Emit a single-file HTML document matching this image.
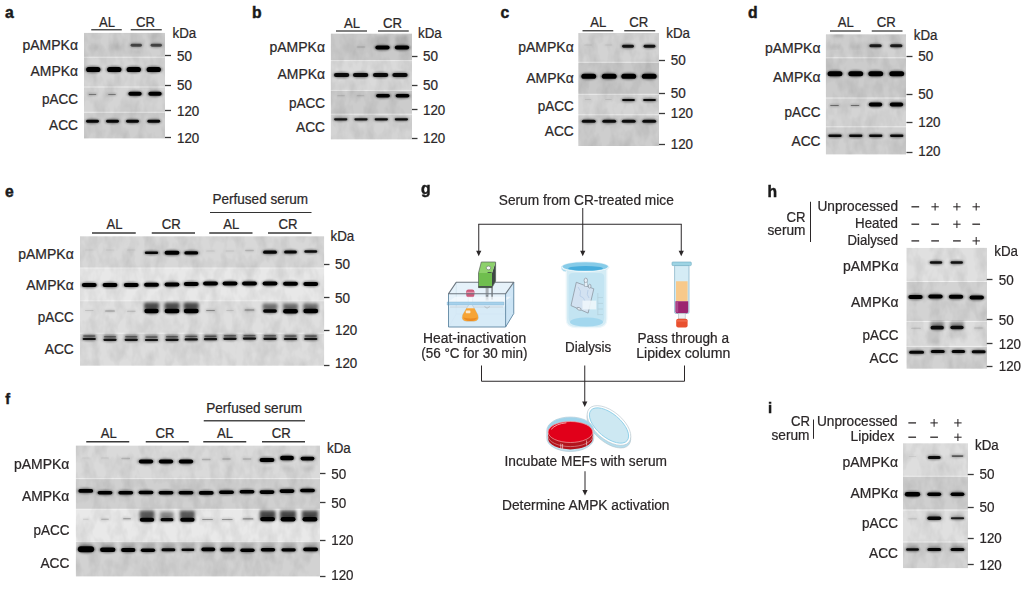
<!DOCTYPE html>
<html><head><meta charset="utf-8"><title>Figure</title>
<style>
html,body{margin:0;padding:0;background:#fff;}
body{width:1024px;height:596px;overflow:hidden;}
svg{display:block;font-family:"Liberation Sans",sans-serif;}
</style></head><body>
<svg width="1024" height="596" viewBox="0 0 1024 596">
<defs>
<filter id="b1" x="-5%" y="-5%" width="110%" height="110%"><feGaussianBlur stdDeviation="0.7"/></filter>
<filter id="b3" x="-5%" y="-5%" width="110%" height="110%"><feGaussianBlur stdDeviation="1.1"/></filter>
<filter id="nz" x="0" y="0" width="100%" height="100%"><feTurbulence type="fractalNoise" baseFrequency="0.09 0.05" numOctaves="3" seed="7" result="t"/><feColorMatrix in="t" type="matrix" values="0 0 0 0 0  0 0 0 0 0  0 0 0 0 0  0.55 0 0 0 -0.2"/></filter>
<filter id="b2" x="-5%" y="-5%" width="110%" height="110%"><feGaussianBlur stdDeviation="1.6"/></filter>
</defs>
<rect width="1024" height="596" fill="#ffffff"/>
<text x="4.90" y="18.30" font-size="15.7" fill="#1a1a1a" font-weight="bold" stroke="#1a1a1a" stroke-width="0.45">a</text>
<text x="107.00" y="26.50" font-size="13.8" fill="#2b2728" text-anchor="middle" stroke="#2b2728" stroke-width="0.22" textLength="16.00" lengthAdjust="spacingAndGlyphs">AL</text>
<line x1="91.25" y1="29.75" x2="121.75" y2="29.75" stroke="#3a3a3a" stroke-width="1.3"/>
<text x="145.50" y="26.50" font-size="13.8" fill="#2b2728" text-anchor="middle" stroke="#2b2728" stroke-width="0.22" textLength="19.00" lengthAdjust="spacingAndGlyphs">CR</text>
<line x1="130.75" y1="29.75" x2="161.75" y2="29.75" stroke="#3a3a3a" stroke-width="1.3"/>
<text x="172.50" y="37.50" font-size="13.8" fill="#2b2728" stroke="#2b2728" stroke-width="0.22" textLength="23.75" lengthAdjust="spacingAndGlyphs">kDa</text>
<clipPath id="c1"><rect x="84.00" y="32.80" width="81.00" height="105.80"/></clipPath>
<g clip-path="url(#c1)">
<rect x="84.00" y="32.80" width="81.00" height="105.80" fill="#ececec"/>
<rect x="84.00" y="32.80" width="81.00" height="23.90" fill="#d1d1d1"/>
<rect x="84.00" y="57.70" width="81.00" height="28.80" fill="#d5d5d5"/>
<rect x="84.00" y="87.50" width="81.00" height="24.30" fill="#d5d5d5"/>
<rect x="84.00" y="112.80" width="81.00" height="25.80" fill="#cfcfcf"/>
<rect x="84.00" y="32.80" width="81.00" height="105.80" filter="url(#nz)" opacity="0.32"/>
<g filter="url(#b2)">
<rect x="88.00" y="44.00" width="11.00" height="6.00" rx="1.5" fill="#000" opacity="0.07"/>
<rect x="108.50" y="44.00" width="11.00" height="6.00" rx="1.5" fill="#000" opacity="0.07"/>
<rect x="130.00" y="33.00" width="12.00" height="14.00" rx="1.5" fill="#000" opacity="0.05"/>
<rect x="150.50" y="33.00" width="12.00" height="14.00" rx="1.5" fill="#000" opacity="0.07"/>
<rect x="88.50" y="48.00" width="9.00" height="8.00" rx="1.5" fill="#000" opacity="0.04"/>
<rect x="130.50" y="48.50" width="11.00" height="5.00" rx="1.5" fill="#000" opacity="0.05"/>
</g>
<g filter="url(#b3)">
<ellipse cx="136.25" cy="45.25" rx="6.85" ry="2.40" fill="#000" opacity="0.275"/>
<ellipse cx="156.25" cy="45.25" rx="6.85" ry="2.40" fill="#000" opacity="0.275"/>
<ellipse cx="93.25" cy="69.50" rx="8.35" ry="3.60" fill="#000" opacity="0.500"/>
<ellipse cx="114.25" cy="69.50" rx="8.35" ry="3.60" fill="#000" opacity="0.500"/>
<ellipse cx="133.75" cy="69.50" rx="8.35" ry="3.60" fill="#000" opacity="0.500"/>
<ellipse cx="153.75" cy="69.50" rx="8.35" ry="3.60" fill="#000" opacity="0.500"/>
<ellipse cx="92.50" cy="94.50" rx="5.10" ry="1.40" fill="#000" opacity="0.175"/>
<ellipse cx="112.00" cy="94.50" rx="5.10" ry="1.40" fill="#000" opacity="0.175"/>
<ellipse cx="135.00" cy="93.75" rx="7.85" ry="3.00" fill="#000" opacity="0.500"/>
<ellipse cx="155.00" cy="93.75" rx="7.85" ry="3.00" fill="#000" opacity="0.500"/>
<ellipse cx="92.50" cy="121.25" rx="7.60" ry="2.40" fill="#000" opacity="0.475"/>
<ellipse cx="112.50" cy="121.25" rx="7.60" ry="2.40" fill="#000" opacity="0.475"/>
<ellipse cx="132.50" cy="121.25" rx="7.60" ry="2.40" fill="#000" opacity="0.475"/>
<ellipse cx="153.75" cy="121.25" rx="7.60" ry="2.40" fill="#000" opacity="0.475"/>
</g>
<g filter="url(#b1)">
<rect x="130.60" y="43.85" width="11.30" height="2.80" rx="1.40" fill="#000" opacity="0.550"/>
<rect x="150.60" y="43.85" width="11.30" height="2.80" rx="1.40" fill="#000" opacity="0.550"/>
<rect x="86.10" y="66.90" width="14.30" height="5.20" rx="2.60" fill="#000" opacity="1.000"/>
<rect x="107.10" y="66.90" width="14.30" height="5.20" rx="2.60" fill="#000" opacity="1.000"/>
<rect x="126.60" y="66.90" width="14.30" height="5.20" rx="2.60" fill="#000" opacity="1.000"/>
<rect x="146.60" y="66.90" width="14.30" height="5.20" rx="2.60" fill="#000" opacity="1.000"/>
<rect x="88.60" y="94.05" width="7.80" height="0.90" rx="0.45" fill="#000" opacity="0.350"/>
<rect x="108.10" y="94.05" width="7.80" height="0.90" rx="0.45" fill="#000" opacity="0.350"/>
<rect x="128.35" y="91.75" width="13.30" height="4.00" rx="2.00" fill="#000" opacity="1.000"/>
<rect x="148.35" y="91.75" width="13.30" height="4.00" rx="2.00" fill="#000" opacity="1.000"/>
<rect x="86.10" y="119.85" width="12.80" height="2.80" rx="1.40" fill="#000" opacity="0.950"/>
<rect x="106.10" y="119.85" width="12.80" height="2.80" rx="1.40" fill="#000" opacity="0.950"/>
<rect x="126.10" y="119.85" width="12.80" height="2.80" rx="1.40" fill="#000" opacity="0.950"/>
<rect x="147.35" y="119.85" width="12.80" height="2.80" rx="1.40" fill="#000" opacity="0.950"/>
</g>
</g>
<text x="78.00" y="50.10" font-size="13.8" fill="#2b2728" text-anchor="end" stroke="#2b2728" stroke-width="0.22" textLength="55.50" lengthAdjust="spacingAndGlyphs">pAMPKα</text>
<text x="78.00" y="76.35" font-size="13.8" fill="#2b2728" text-anchor="end" stroke="#2b2728" stroke-width="0.22" textLength="47.50" lengthAdjust="spacingAndGlyphs">AMPKα</text>
<text x="78.00" y="104.35" font-size="13.8" fill="#2b2728" text-anchor="end" stroke="#2b2728" stroke-width="0.22" textLength="36.00" lengthAdjust="spacingAndGlyphs">pACC</text>
<text x="78.00" y="130.10" font-size="13.8" fill="#2b2728" text-anchor="end" stroke="#2b2728" stroke-width="0.22" textLength="29.00" lengthAdjust="spacingAndGlyphs">ACC</text>
<line x1="165.00" y1="55.50" x2="171.00" y2="55.50" stroke="#3a3a3a" stroke-width="1.3"/>
<text x="177.00" y="61.35" font-size="13.8" fill="#2b2728" stroke="#2b2728" stroke-width="0.22" textLength="15.00" lengthAdjust="spacingAndGlyphs">50</text>
<line x1="165.00" y1="85.50" x2="171.00" y2="85.50" stroke="#3a3a3a" stroke-width="1.3"/>
<text x="177.00" y="89.85" font-size="13.8" fill="#2b2728" stroke="#2b2728" stroke-width="0.22" textLength="15.00" lengthAdjust="spacingAndGlyphs">50</text>
<line x1="165.00" y1="110.50" x2="171.00" y2="110.50" stroke="#3a3a3a" stroke-width="1.3"/>
<text x="177.00" y="115.60" font-size="13.8" fill="#2b2728" stroke="#2b2728" stroke-width="0.22" textLength="22.30" lengthAdjust="spacingAndGlyphs">120</text>
<line x1="165.00" y1="137.50" x2="171.00" y2="137.50" stroke="#3a3a3a" stroke-width="1.3"/>
<text x="177.00" y="142.60" font-size="13.8" fill="#2b2728" stroke="#2b2728" stroke-width="0.22" textLength="22.30" lengthAdjust="spacingAndGlyphs">120</text>
<text x="251.90" y="18.30" font-size="15.7" fill="#1a1a1a" font-weight="bold" stroke="#1a1a1a" stroke-width="0.45">b</text>
<text x="352.00" y="27.50" font-size="13.8" fill="#2b2728" text-anchor="middle" stroke="#2b2728" stroke-width="0.22" textLength="16.00" lengthAdjust="spacingAndGlyphs">AL</text>
<line x1="336.00" y1="31.00" x2="367.00" y2="31.00" stroke="#737373" stroke-width="1.8"/>
<text x="392.50" y="27.50" font-size="13.8" fill="#2b2728" text-anchor="middle" stroke="#2b2728" stroke-width="0.22" textLength="19.00" lengthAdjust="spacingAndGlyphs">CR</text>
<line x1="378.00" y1="31.00" x2="408.75" y2="31.00" stroke="#737373" stroke-width="1.8"/>
<text x="418.00" y="38.00" font-size="13.8" fill="#2b2728" stroke="#2b2728" stroke-width="0.22" textLength="23.75" lengthAdjust="spacingAndGlyphs">kDa</text>
<clipPath id="c2"><rect x="330.70" y="33.50" width="81.30" height="106.00"/></clipPath>
<g clip-path="url(#c2)">
<rect x="330.70" y="33.50" width="81.30" height="106.00" fill="#ececec"/>
<rect x="330.70" y="33.50" width="81.30" height="26.60" fill="#cacaca"/>
<rect x="330.70" y="61.10" width="81.30" height="28.80" fill="#dadada"/>
<rect x="330.70" y="90.90" width="81.30" height="22.80" fill="#cccccc"/>
<rect x="330.70" y="114.70" width="81.30" height="24.80" fill="#d4d4d4"/>
<rect x="330.70" y="33.50" width="81.30" height="106.00" filter="url(#nz)" opacity="0.32"/>
<g filter="url(#b2)">
<rect x="376.00" y="35.50" width="13.00" height="9.00" rx="1.5" fill="#000" opacity="0.1"/>
<rect x="395.50" y="35.50" width="13.00" height="9.00" rx="1.5" fill="#000" opacity="0.1"/>
</g>
<g filter="url(#b3)">
<ellipse cx="361.00" cy="47.00" rx="5.60" ry="2.00" fill="#000" opacity="0.040"/>
<ellipse cx="382.50" cy="47.50" rx="8.35" ry="3.10" fill="#000" opacity="0.500"/>
<ellipse cx="402.00" cy="47.50" rx="8.35" ry="3.10" fill="#000" opacity="0.500"/>
<ellipse cx="341.60" cy="75.10" rx="8.85" ry="3.00" fill="#000" opacity="0.460"/>
<ellipse cx="360.60" cy="75.10" rx="8.85" ry="3.00" fill="#000" opacity="0.460"/>
<ellipse cx="380.60" cy="75.10" rx="8.85" ry="3.00" fill="#000" opacity="0.460"/>
<ellipse cx="400.00" cy="75.10" rx="8.85" ry="3.00" fill="#000" opacity="0.460"/>
<ellipse cx="341.00" cy="95.75" rx="5.10" ry="1.30" fill="#000" opacity="0.060"/>
<ellipse cx="360.50" cy="95.75" rx="5.10" ry="1.30" fill="#000" opacity="0.060"/>
<ellipse cx="383.00" cy="95.75" rx="8.10" ry="2.80" fill="#000" opacity="0.500"/>
<ellipse cx="402.50" cy="95.75" rx="8.10" ry="2.80" fill="#000" opacity="0.500"/>
<ellipse cx="340.70" cy="119.30" rx="7.85" ry="2.10" fill="#000" opacity="0.425"/>
<ellipse cx="361.00" cy="119.30" rx="7.85" ry="2.10" fill="#000" opacity="0.425"/>
<ellipse cx="381.30" cy="119.30" rx="7.85" ry="2.10" fill="#000" opacity="0.450"/>
<ellipse cx="401.40" cy="119.30" rx="7.85" ry="2.10" fill="#000" opacity="0.460"/>
</g>
<g filter="url(#b1)">
<rect x="356.60" y="46.00" width="8.80" height="2.00" rx="1.00" fill="#000" opacity="0.080"/>
<rect x="375.35" y="45.40" width="14.30" height="4.20" rx="2.10" fill="#000" opacity="1.000"/>
<rect x="394.85" y="45.40" width="14.30" height="4.20" rx="2.10" fill="#000" opacity="1.000"/>
<rect x="333.95" y="73.10" width="15.30" height="4.00" rx="2.00" fill="#000" opacity="0.920"/>
<rect x="352.95" y="73.10" width="15.30" height="4.00" rx="2.00" fill="#000" opacity="0.920"/>
<rect x="372.95" y="73.10" width="15.30" height="4.00" rx="2.00" fill="#000" opacity="0.920"/>
<rect x="392.35" y="73.10" width="15.30" height="4.00" rx="2.00" fill="#000" opacity="0.920"/>
<rect x="337.10" y="95.30" width="7.80" height="0.90" rx="0.45" fill="#000" opacity="0.120"/>
<rect x="356.60" y="95.30" width="7.80" height="0.90" rx="0.45" fill="#000" opacity="0.120"/>
<rect x="376.10" y="93.95" width="13.80" height="3.60" rx="1.80" fill="#000" opacity="1.000"/>
<rect x="395.60" y="93.95" width="13.80" height="3.60" rx="1.80" fill="#000" opacity="1.000"/>
<rect x="334.05" y="118.20" width="13.30" height="2.20" rx="1.10" fill="#000" opacity="0.850"/>
<rect x="354.35" y="118.20" width="13.30" height="2.20" rx="1.10" fill="#000" opacity="0.850"/>
<rect x="374.65" y="118.20" width="13.30" height="2.20" rx="1.10" fill="#000" opacity="0.900"/>
<rect x="394.75" y="118.20" width="13.30" height="2.20" rx="1.10" fill="#000" opacity="0.920"/>
</g>
</g>
<text x="325.00" y="51.60" font-size="13.8" fill="#2b2728" text-anchor="end" stroke="#2b2728" stroke-width="0.22" textLength="55.50" lengthAdjust="spacingAndGlyphs">pAMPKα</text>
<text x="325.00" y="79.35" font-size="13.8" fill="#2b2728" text-anchor="end" stroke="#2b2728" stroke-width="0.22" textLength="47.50" lengthAdjust="spacingAndGlyphs">AMPKα</text>
<text x="325.00" y="107.60" font-size="13.8" fill="#2b2728" text-anchor="end" stroke="#2b2728" stroke-width="0.22" textLength="36.00" lengthAdjust="spacingAndGlyphs">pACC</text>
<text x="325.00" y="132.10" font-size="13.8" fill="#2b2728" text-anchor="end" stroke="#2b2728" stroke-width="0.22" textLength="29.00" lengthAdjust="spacingAndGlyphs">ACC</text>
<line x1="412.00" y1="56.50" x2="417.50" y2="56.50" stroke="#3a3a3a" stroke-width="1.3"/>
<text x="423.00" y="61.35" font-size="13.8" fill="#2b2728" stroke="#2b2728" stroke-width="0.22" textLength="15.00" lengthAdjust="spacingAndGlyphs">50</text>
<line x1="412.00" y1="85.50" x2="417.50" y2="85.50" stroke="#3a3a3a" stroke-width="1.3"/>
<text x="423.00" y="90.10" font-size="13.8" fill="#2b2728" stroke="#2b2728" stroke-width="0.22" textLength="15.00" lengthAdjust="spacingAndGlyphs">50</text>
<line x1="412.00" y1="109.50" x2="417.50" y2="109.50" stroke="#3a3a3a" stroke-width="1.3"/>
<text x="423.00" y="114.60" font-size="13.8" fill="#2b2728" stroke="#2b2728" stroke-width="0.22" textLength="22.30" lengthAdjust="spacingAndGlyphs">120</text>
<line x1="412.00" y1="138.50" x2="417.50" y2="138.50" stroke="#3a3a3a" stroke-width="1.3"/>
<text x="423.00" y="143.10" font-size="13.8" fill="#2b2728" stroke="#2b2728" stroke-width="0.22" textLength="22.30" lengthAdjust="spacingAndGlyphs">120</text>
<text x="500.60" y="18.30" font-size="15.7" fill="#1a1a1a" font-weight="bold" stroke="#1a1a1a" stroke-width="0.45">c</text>
<text x="598.25" y="26.75" font-size="13.8" fill="#2b2728" text-anchor="middle" stroke="#2b2728" stroke-width="0.22" textLength="16.00" lengthAdjust="spacingAndGlyphs">AL</text>
<line x1="582.50" y1="30.75" x2="613.25" y2="30.75" stroke="#3a3a3a" stroke-width="1.3"/>
<text x="638.75" y="26.75" font-size="13.8" fill="#2b2728" text-anchor="middle" stroke="#2b2728" stroke-width="0.22" textLength="19.00" lengthAdjust="spacingAndGlyphs">CR</text>
<line x1="624.25" y1="30.75" x2="655.25" y2="30.75" stroke="#3a3a3a" stroke-width="1.3"/>
<text x="666.25" y="38.00" font-size="13.8" fill="#2b2728" stroke="#2b2728" stroke-width="0.22" textLength="23.75" lengthAdjust="spacingAndGlyphs">kDa</text>
<clipPath id="c3"><rect x="578.25" y="33.00" width="80.75" height="113.00"/></clipPath>
<g clip-path="url(#c3)">
<rect x="578.25" y="33.00" width="80.75" height="113.00" fill="#ececec"/>
<rect x="578.25" y="33.00" width="80.75" height="28.80" fill="#d3d3d3"/>
<rect x="578.25" y="62.80" width="80.75" height="31.00" fill="#c9c9c9"/>
<rect x="578.25" y="94.80" width="80.75" height="19.50" fill="#d5d5d5"/>
<rect x="578.25" y="115.30" width="80.75" height="30.70" fill="#cecece"/>
<rect x="578.25" y="33.00" width="80.75" height="113.00" filter="url(#nz)" opacity="0.32"/>
<g filter="url(#b3)">
<ellipse cx="588.00" cy="45.00" rx="5.10" ry="1.50" fill="#000" opacity="0.035"/>
<ellipse cx="608.50" cy="45.00" rx="5.10" ry="1.50" fill="#000" opacity="0.035"/>
<ellipse cx="628.00" cy="46.25" rx="7.10" ry="2.40" fill="#000" opacity="0.425"/>
<ellipse cx="649.50" cy="46.25" rx="7.10" ry="2.40" fill="#000" opacity="0.425"/>
<ellipse cx="588.75" cy="76.25" rx="8.60" ry="3.60" fill="#000" opacity="0.500"/>
<ellipse cx="609.25" cy="76.25" rx="8.60" ry="3.60" fill="#000" opacity="0.500"/>
<ellipse cx="628.75" cy="76.25" rx="8.60" ry="3.60" fill="#000" opacity="0.500"/>
<ellipse cx="649.25" cy="76.25" rx="8.60" ry="3.60" fill="#000" opacity="0.500"/>
<ellipse cx="588.00" cy="99.50" rx="4.60" ry="1.25" fill="#000" opacity="0.040"/>
<ellipse cx="608.50" cy="99.50" rx="4.60" ry="1.25" fill="#000" opacity="0.040"/>
<ellipse cx="628.50" cy="100.00" rx="7.60" ry="2.10" fill="#000" opacity="0.460"/>
<ellipse cx="649.50" cy="100.00" rx="7.60" ry="2.10" fill="#000" opacity="0.460"/>
<ellipse cx="588.75" cy="121.25" rx="8.10" ry="2.60" fill="#000" opacity="0.450"/>
<ellipse cx="609.25" cy="121.25" rx="8.10" ry="2.60" fill="#000" opacity="0.450"/>
<ellipse cx="628.75" cy="121.25" rx="8.10" ry="2.60" fill="#000" opacity="0.450"/>
<ellipse cx="649.25" cy="121.25" rx="8.10" ry="2.60" fill="#000" opacity="0.450"/>
</g>
<g filter="url(#b1)">
<rect x="584.10" y="44.50" width="7.80" height="1.00" rx="0.50" fill="#000" opacity="0.070"/>
<rect x="604.60" y="44.50" width="7.80" height="1.00" rx="0.50" fill="#000" opacity="0.070"/>
<rect x="622.10" y="44.85" width="11.80" height="2.80" rx="1.40" fill="#000" opacity="0.850"/>
<rect x="643.60" y="44.85" width="11.80" height="2.80" rx="1.40" fill="#000" opacity="0.850"/>
<rect x="581.35" y="73.65" width="14.80" height="5.20" rx="2.60" fill="#000" opacity="1.000"/>
<rect x="601.85" y="73.65" width="14.80" height="5.20" rx="2.60" fill="#000" opacity="1.000"/>
<rect x="621.35" y="73.65" width="14.80" height="5.20" rx="2.60" fill="#000" opacity="1.000"/>
<rect x="641.85" y="73.65" width="14.80" height="5.20" rx="2.60" fill="#000" opacity="1.000"/>
<rect x="584.60" y="99.05" width="6.80" height="0.90" rx="0.45" fill="#000" opacity="0.080"/>
<rect x="605.10" y="99.05" width="6.80" height="0.90" rx="0.45" fill="#000" opacity="0.080"/>
<rect x="622.10" y="98.90" width="12.80" height="2.20" rx="1.10" fill="#000" opacity="0.920"/>
<rect x="643.10" y="98.90" width="12.80" height="2.20" rx="1.10" fill="#000" opacity="0.920"/>
<rect x="581.85" y="119.65" width="13.80" height="3.20" rx="1.60" fill="#000" opacity="0.900"/>
<rect x="602.35" y="119.65" width="13.80" height="3.20" rx="1.60" fill="#000" opacity="0.900"/>
<rect x="621.85" y="119.65" width="13.80" height="3.20" rx="1.60" fill="#000" opacity="0.900"/>
<rect x="642.35" y="119.65" width="13.80" height="3.20" rx="1.60" fill="#000" opacity="0.900"/>
</g>
</g>
<text x="573.75" y="51.85" font-size="13.8" fill="#2b2728" text-anchor="end" stroke="#2b2728" stroke-width="0.22" textLength="55.50" lengthAdjust="spacingAndGlyphs">pAMPKα</text>
<text x="573.75" y="83.10" font-size="13.8" fill="#2b2728" text-anchor="end" stroke="#2b2728" stroke-width="0.22" textLength="47.50" lengthAdjust="spacingAndGlyphs">AMPKα</text>
<text x="573.75" y="111.10" font-size="13.8" fill="#2b2728" text-anchor="end" stroke="#2b2728" stroke-width="0.22" textLength="36.00" lengthAdjust="spacingAndGlyphs">pACC</text>
<text x="573.75" y="136.10" font-size="13.8" fill="#2b2728" text-anchor="end" stroke="#2b2728" stroke-width="0.22" textLength="29.00" lengthAdjust="spacingAndGlyphs">ACC</text>
<line x1="659.00" y1="60.50" x2="665.00" y2="60.50" stroke="#3a3a3a" stroke-width="1.3"/>
<text x="670.75" y="65.10" font-size="13.8" fill="#2b2728" stroke="#2b2728" stroke-width="0.22" textLength="15.00" lengthAdjust="spacingAndGlyphs">50</text>
<line x1="659.00" y1="93.50" x2="665.00" y2="93.50" stroke="#3a3a3a" stroke-width="1.3"/>
<text x="670.75" y="98.10" font-size="13.8" fill="#2b2728" stroke="#2b2728" stroke-width="0.22" textLength="15.00" lengthAdjust="spacingAndGlyphs">50</text>
<line x1="659.00" y1="113.50" x2="665.00" y2="113.50" stroke="#3a3a3a" stroke-width="1.3"/>
<text x="670.75" y="118.10" font-size="13.8" fill="#2b2728" stroke="#2b2728" stroke-width="0.22" textLength="22.30" lengthAdjust="spacingAndGlyphs">120</text>
<line x1="659.00" y1="144.50" x2="665.00" y2="144.50" stroke="#3a3a3a" stroke-width="1.3"/>
<text x="670.75" y="149.10" font-size="13.8" fill="#2b2728" stroke="#2b2728" stroke-width="0.22" textLength="22.30" lengthAdjust="spacingAndGlyphs">120</text>
<text x="748.00" y="18.30" font-size="15.7" fill="#1a1a1a" font-weight="bold" stroke="#1a1a1a" stroke-width="0.45">d</text>
<text x="845.75" y="27.00" font-size="13.8" fill="#2b2728" text-anchor="middle" stroke="#2b2728" stroke-width="0.22" textLength="16.00" lengthAdjust="spacingAndGlyphs">AL</text>
<line x1="830.00" y1="31.00" x2="860.75" y2="31.00" stroke="#737373" stroke-width="1.8"/>
<text x="886.25" y="27.00" font-size="13.8" fill="#2b2728" text-anchor="middle" stroke="#2b2728" stroke-width="0.22" textLength="19.00" lengthAdjust="spacingAndGlyphs">CR</text>
<line x1="871.75" y1="31.00" x2="902.50" y2="31.00" stroke="#737373" stroke-width="1.8"/>
<text x="913.75" y="40.00" font-size="13.8" fill="#2b2728" stroke="#2b2728" stroke-width="0.22" textLength="23.75" lengthAdjust="spacingAndGlyphs">kDa</text>
<clipPath id="c4"><rect x="825.75" y="34.25" width="80.35" height="120.35"/></clipPath>
<g clip-path="url(#c4)">
<rect x="825.75" y="34.25" width="80.35" height="120.35" fill="#ececec"/>
<rect x="825.75" y="34.25" width="80.35" height="23.05" fill="#d2d2d2"/>
<rect x="825.75" y="58.30" width="80.35" height="39.20" fill="#cccccc"/>
<rect x="825.75" y="98.50" width="80.35" height="27.80" fill="#d4d4d4"/>
<rect x="825.75" y="127.30" width="80.35" height="27.30" fill="#d0d0d0"/>
<rect x="825.75" y="34.25" width="80.35" height="120.35" filter="url(#nz)" opacity="0.32"/>
<g filter="url(#b2)">
<rect x="829.50" y="44.00" width="11.00" height="5.00" rx="1.5" fill="#000" opacity="0.07"/>
<rect x="850.50" y="44.00" width="11.00" height="5.00" rx="1.5" fill="#000" opacity="0.06"/>
<rect x="833.00" y="34.00" width="10.00" height="3.00" rx="1.5" fill="#000" opacity="0.16"/>
<rect x="853.50" y="34.25" width="9.00" height="2.50" rx="1.5" fill="#000" opacity="0.08"/>
<rect x="870.00" y="34.00" width="12.00" height="8.00" rx="1.5" fill="#000" opacity="0.04"/>
<rect x="890.00" y="34.00" width="12.00" height="8.00" rx="1.5" fill="#000" opacity="0.05"/>
</g>
<g filter="url(#b3)">
<ellipse cx="875.50" cy="45.75" rx="7.35" ry="2.60" fill="#000" opacity="0.400"/>
<ellipse cx="896.25" cy="45.75" rx="7.35" ry="2.60" fill="#000" opacity="0.400"/>
<ellipse cx="835.00" cy="73.75" rx="8.60" ry="3.50" fill="#000" opacity="0.500"/>
<ellipse cx="855.75" cy="73.75" rx="8.60" ry="3.50" fill="#000" opacity="0.500"/>
<ellipse cx="875.75" cy="73.75" rx="8.60" ry="3.50" fill="#000" opacity="0.500"/>
<ellipse cx="896.75" cy="73.75" rx="8.60" ry="3.50" fill="#000" opacity="0.500"/>
<ellipse cx="834.50" cy="105.50" rx="5.60" ry="1.40" fill="#000" opacity="0.200"/>
<ellipse cx="855.00" cy="105.50" rx="5.60" ry="1.40" fill="#000" opacity="0.200"/>
<ellipse cx="875.50" cy="104.50" rx="7.85" ry="3.10" fill="#000" opacity="0.500"/>
<ellipse cx="896.50" cy="104.50" rx="7.85" ry="3.10" fill="#000" opacity="0.500"/>
<ellipse cx="835.00" cy="135.75" rx="7.85" ry="2.30" fill="#000" opacity="0.460"/>
<ellipse cx="855.75" cy="135.75" rx="7.85" ry="2.30" fill="#000" opacity="0.460"/>
<ellipse cx="875.75" cy="135.75" rx="7.85" ry="2.30" fill="#000" opacity="0.460"/>
<ellipse cx="896.75" cy="135.75" rx="7.85" ry="2.30" fill="#000" opacity="0.460"/>
</g>
<g filter="url(#b1)">
<rect x="869.35" y="44.15" width="12.30" height="3.20" rx="1.60" fill="#000" opacity="0.800"/>
<rect x="890.10" y="44.15" width="12.30" height="3.20" rx="1.60" fill="#000" opacity="0.800"/>
<rect x="827.60" y="71.25" width="14.80" height="5.00" rx="2.50" fill="#000" opacity="1.000"/>
<rect x="848.35" y="71.25" width="14.80" height="5.00" rx="2.50" fill="#000" opacity="1.000"/>
<rect x="868.35" y="71.25" width="14.80" height="5.00" rx="2.50" fill="#000" opacity="1.000"/>
<rect x="889.35" y="71.25" width="14.80" height="5.00" rx="2.50" fill="#000" opacity="1.000"/>
<rect x="830.10" y="105.05" width="8.80" height="0.90" rx="0.45" fill="#000" opacity="0.400"/>
<rect x="850.60" y="105.05" width="8.80" height="0.90" rx="0.45" fill="#000" opacity="0.400"/>
<rect x="868.85" y="102.40" width="13.30" height="4.20" rx="2.10" fill="#000" opacity="1.000"/>
<rect x="889.85" y="102.40" width="13.30" height="4.20" rx="2.10" fill="#000" opacity="1.000"/>
<rect x="828.35" y="134.45" width="13.30" height="2.60" rx="1.30" fill="#000" opacity="0.920"/>
<rect x="849.10" y="134.45" width="13.30" height="2.60" rx="1.30" fill="#000" opacity="0.920"/>
<rect x="869.10" y="134.45" width="13.30" height="2.60" rx="1.30" fill="#000" opacity="0.920"/>
<rect x="890.10" y="134.45" width="13.30" height="2.60" rx="1.30" fill="#000" opacity="0.920"/>
</g>
</g>
<text x="820.50" y="52.60" font-size="13.8" fill="#2b2728" text-anchor="end" stroke="#2b2728" stroke-width="0.22" textLength="55.50" lengthAdjust="spacingAndGlyphs">pAMPKα</text>
<text x="820.50" y="81.85" font-size="13.8" fill="#2b2728" text-anchor="end" stroke="#2b2728" stroke-width="0.22" textLength="47.50" lengthAdjust="spacingAndGlyphs">AMPKα</text>
<text x="820.50" y="116.85" font-size="13.8" fill="#2b2728" text-anchor="end" stroke="#2b2728" stroke-width="0.22" textLength="36.00" lengthAdjust="spacingAndGlyphs">pACC</text>
<text x="820.50" y="146.35" font-size="13.8" fill="#2b2728" text-anchor="end" stroke="#2b2728" stroke-width="0.22" textLength="29.00" lengthAdjust="spacingAndGlyphs">ACC</text>
<line x1="906.50" y1="56.50" x2="912.50" y2="56.50" stroke="#3a3a3a" stroke-width="1.3"/>
<text x="918.25" y="61.35" font-size="13.8" fill="#2b2728" stroke="#2b2728" stroke-width="0.22" textLength="15.00" lengthAdjust="spacingAndGlyphs">50</text>
<line x1="906.50" y1="94.50" x2="912.50" y2="94.50" stroke="#3a3a3a" stroke-width="1.3"/>
<text x="918.25" y="99.35" font-size="13.8" fill="#2b2728" stroke="#2b2728" stroke-width="0.22" textLength="15.00" lengthAdjust="spacingAndGlyphs">50</text>
<line x1="906.50" y1="122.50" x2="912.50" y2="122.50" stroke="#3a3a3a" stroke-width="1.3"/>
<text x="918.25" y="127.35" font-size="13.8" fill="#2b2728" stroke="#2b2728" stroke-width="0.22" textLength="22.30" lengthAdjust="spacingAndGlyphs">120</text>
<line x1="906.50" y1="152.50" x2="912.50" y2="152.50" stroke="#3a3a3a" stroke-width="1.3"/>
<text x="918.25" y="156.10" font-size="13.8" fill="#2b2728" stroke="#2b2728" stroke-width="0.22" textLength="22.30" lengthAdjust="spacingAndGlyphs">120</text>
<text x="4.90" y="196.90" font-size="15.7" fill="#1a1a1a" font-weight="bold" stroke="#1a1a1a" stroke-width="0.45">e</text>
<text x="212.50" y="203.75" font-size="13.8" fill="#2b2728" stroke="#2b2728" stroke-width="0.22" textLength="95.50" lengthAdjust="spacingAndGlyphs">Perfused serum</text>
<line x1="210.00" y1="212.50" x2="311.50" y2="212.50" stroke="#333" stroke-width="1.2"/>
<text x="114.50" y="228.75" font-size="13.8" fill="#2b2728" text-anchor="middle" stroke="#2b2728" stroke-width="0.22" textLength="16.00" lengthAdjust="spacingAndGlyphs">AL</text>
<line x1="92.00" y1="233.00" x2="135.75" y2="233.00" stroke="#3a3a3a" stroke-width="1.3"/>
<text x="171.25" y="228.75" font-size="13.8" fill="#2b2728" text-anchor="middle" stroke="#2b2728" stroke-width="0.22" textLength="19.00" lengthAdjust="spacingAndGlyphs">CR</text>
<line x1="151.75" y1="233.00" x2="195.00" y2="233.00" stroke="#3a3a3a" stroke-width="1.3"/>
<text x="231.25" y="228.75" font-size="13.8" fill="#2b2728" text-anchor="middle" stroke="#2b2728" stroke-width="0.22" textLength="16.00" lengthAdjust="spacingAndGlyphs">AL</text>
<line x1="209.25" y1="233.00" x2="252.50" y2="233.00" stroke="#3a3a3a" stroke-width="1.3"/>
<text x="288.00" y="228.75" font-size="13.8" fill="#2b2728" text-anchor="middle" stroke="#2b2728" stroke-width="0.22" textLength="19.00" lengthAdjust="spacingAndGlyphs">CR</text>
<line x1="268.00" y1="233.00" x2="311.50" y2="233.00" stroke="#3a3a3a" stroke-width="1.3"/>
<text x="330.50" y="241.25" font-size="13.8" fill="#2b2728" stroke="#2b2728" stroke-width="0.22" textLength="23.75" lengthAdjust="spacingAndGlyphs">kDa</text>
<clipPath id="c5"><rect x="80.00" y="236.25" width="244.25" height="129.50"/></clipPath>
<g clip-path="url(#c5)">
<rect x="80.00" y="236.25" width="244.25" height="129.50" fill="#f0f0f0"/>
<rect x="80.00" y="236.25" width="244.25" height="31.25" fill="#d8d8d8"/>
<rect x="80.00" y="268.50" width="244.25" height="31.75" fill="#e8e8e8"/>
<rect x="80.00" y="301.25" width="244.25" height="31.50" fill="#dfdfdf"/>
<rect x="80.00" y="333.75" width="244.25" height="32.00" fill="#dddddd"/>
<rect x="80.00" y="236.25" width="244.25" height="129.50" filter="url(#nz)" opacity="0.32"/>
<g filter="url(#b2)">
<rect x="144.00" y="302.50" width="15.00" height="7.00" rx="1.5" fill="#000" opacity="0.66"/>
<rect x="164.50" y="302.50" width="15.00" height="7.00" rx="1.5" fill="#000" opacity="0.66"/>
<rect x="183.75" y="302.50" width="15.00" height="7.00" rx="1.5" fill="#000" opacity="0.66"/>
<rect x="262.50" y="303.50" width="15.00" height="6.00" rx="1.5" fill="#000" opacity="0.5"/>
<rect x="283.00" y="303.50" width="15.00" height="6.00" rx="1.5" fill="#000" opacity="0.5"/>
<rect x="303.25" y="303.50" width="15.00" height="6.00" rx="1.5" fill="#000" opacity="0.5"/>
<rect x="82.50" y="334.20" width="13.50" height="3.60" rx="1.5" fill="#000" opacity="0.3"/>
<rect x="103.25" y="334.20" width="13.50" height="3.60" rx="1.5" fill="#000" opacity="0.3"/>
<rect x="124.50" y="334.20" width="13.50" height="3.60" rx="1.5" fill="#000" opacity="0.3"/>
<rect x="144.75" y="334.20" width="13.50" height="3.60" rx="1.5" fill="#000" opacity="0.3"/>
<rect x="165.25" y="334.20" width="13.50" height="3.60" rx="1.5" fill="#000" opacity="0.3"/>
<rect x="184.50" y="334.20" width="13.50" height="3.60" rx="1.5" fill="#000" opacity="0.3"/>
<rect x="203.75" y="334.20" width="13.50" height="3.60" rx="1.5" fill="#000" opacity="0.3"/>
<rect x="223.25" y="334.20" width="13.50" height="3.60" rx="1.5" fill="#000" opacity="0.3"/>
<rect x="242.75" y="334.20" width="13.50" height="3.60" rx="1.5" fill="#000" opacity="0.3"/>
<rect x="263.25" y="334.20" width="13.50" height="3.60" rx="1.5" fill="#000" opacity="0.3"/>
<rect x="283.75" y="334.20" width="13.50" height="3.60" rx="1.5" fill="#000" opacity="0.3"/>
<rect x="304.00" y="334.20" width="13.50" height="3.60" rx="1.5" fill="#000" opacity="0.3"/>
</g>
<g filter="url(#b3)">
<ellipse cx="89.25" cy="250.00" rx="5.60" ry="1.50" fill="#000" opacity="0.025"/>
<ellipse cx="110.00" cy="250.00" rx="5.60" ry="1.50" fill="#000" opacity="0.030"/>
<ellipse cx="131.25" cy="250.00" rx="5.60" ry="1.50" fill="#000" opacity="0.030"/>
<ellipse cx="151.50" cy="252.70" rx="7.85" ry="2.30" fill="#000" opacity="0.475"/>
<ellipse cx="172.00" cy="252.80" rx="8.60" ry="3.00" fill="#000" opacity="0.500"/>
<ellipse cx="191.25" cy="252.90" rx="8.10" ry="2.70" fill="#000" opacity="0.500"/>
<ellipse cx="210.50" cy="251.00" rx="5.60" ry="1.50" fill="#000" opacity="0.040"/>
<ellipse cx="230.00" cy="251.00" rx="5.60" ry="1.50" fill="#000" opacity="0.040"/>
<ellipse cx="249.50" cy="250.50" rx="5.60" ry="1.70" fill="#000" opacity="0.070"/>
<ellipse cx="270.00" cy="252.20" rx="8.10" ry="2.60" fill="#000" opacity="0.475"/>
<ellipse cx="290.50" cy="252.00" rx="7.60" ry="2.60" fill="#000" opacity="0.475"/>
<ellipse cx="310.75" cy="251.50" rx="7.60" ry="2.20" fill="#000" opacity="0.450"/>
<ellipse cx="89.25" cy="285.10" rx="8.60" ry="3.00" fill="#000" opacity="0.500"/>
<ellipse cx="110.00" cy="285.10" rx="8.60" ry="3.00" fill="#000" opacity="0.500"/>
<ellipse cx="131.25" cy="285.00" rx="8.60" ry="3.00" fill="#000" opacity="0.500"/>
<ellipse cx="151.50" cy="284.80" rx="8.60" ry="3.00" fill="#000" opacity="0.500"/>
<ellipse cx="172.00" cy="284.50" rx="8.60" ry="3.00" fill="#000" opacity="0.500"/>
<ellipse cx="191.25" cy="284.00" rx="8.60" ry="3.00" fill="#000" opacity="0.500"/>
<ellipse cx="210.50" cy="283.50" rx="8.60" ry="3.00" fill="#000" opacity="0.500"/>
<ellipse cx="230.00" cy="283.50" rx="8.60" ry="3.00" fill="#000" opacity="0.500"/>
<ellipse cx="249.50" cy="283.50" rx="8.60" ry="3.00" fill="#000" opacity="0.500"/>
<ellipse cx="270.00" cy="283.50" rx="8.60" ry="3.00" fill="#000" opacity="0.500"/>
<ellipse cx="290.50" cy="283.70" rx="8.60" ry="3.00" fill="#000" opacity="0.500"/>
<ellipse cx="310.75" cy="283.90" rx="8.60" ry="3.00" fill="#000" opacity="0.500"/>
<ellipse cx="89.25" cy="310.50" rx="5.60" ry="1.30" fill="#000" opacity="0.050"/>
<ellipse cx="110.00" cy="311.00" rx="6.10" ry="1.50" fill="#000" opacity="0.140"/>
<ellipse cx="131.25" cy="311.20" rx="5.60" ry="1.30" fill="#000" opacity="0.070"/>
<ellipse cx="151.50" cy="311.00" rx="8.35" ry="3.20" fill="#000" opacity="0.500"/>
<ellipse cx="172.00" cy="311.00" rx="8.60" ry="3.30" fill="#000" opacity="0.500"/>
<ellipse cx="191.25" cy="311.00" rx="8.60" ry="3.20" fill="#000" opacity="0.500"/>
<ellipse cx="210.50" cy="310.50" rx="5.60" ry="1.50" fill="#000" opacity="0.150"/>
<ellipse cx="230.00" cy="310.50" rx="5.10" ry="1.20" fill="#000" opacity="0.050"/>
<ellipse cx="249.50" cy="310.00" rx="6.10" ry="1.60" fill="#000" opacity="0.175"/>
<ellipse cx="270.00" cy="311.00" rx="8.10" ry="2.80" fill="#000" opacity="0.475"/>
<ellipse cx="290.50" cy="311.30" rx="8.60" ry="3.20" fill="#000" opacity="0.500"/>
<ellipse cx="310.75" cy="311.00" rx="8.60" ry="3.20" fill="#000" opacity="0.500"/>
<ellipse cx="89.25" cy="339.00" rx="7.85" ry="2.10" fill="#000" opacity="0.425"/>
<ellipse cx="110.00" cy="339.80" rx="7.85" ry="2.10" fill="#000" opacity="0.425"/>
<ellipse cx="131.25" cy="339.80" rx="7.85" ry="2.10" fill="#000" opacity="0.425"/>
<ellipse cx="151.50" cy="340.00" rx="7.85" ry="2.10" fill="#000" opacity="0.425"/>
<ellipse cx="172.00" cy="339.80" rx="7.85" ry="2.10" fill="#000" opacity="0.425"/>
<ellipse cx="191.25" cy="339.40" rx="7.85" ry="2.10" fill="#000" opacity="0.425"/>
<ellipse cx="210.50" cy="339.20" rx="7.85" ry="2.10" fill="#000" opacity="0.425"/>
<ellipse cx="230.00" cy="338.80" rx="7.85" ry="2.10" fill="#000" opacity="0.425"/>
<ellipse cx="249.50" cy="338.60" rx="7.85" ry="2.10" fill="#000" opacity="0.425"/>
<ellipse cx="270.00" cy="338.80" rx="7.85" ry="2.10" fill="#000" opacity="0.425"/>
<ellipse cx="290.50" cy="339.00" rx="7.85" ry="2.10" fill="#000" opacity="0.425"/>
<ellipse cx="310.75" cy="339.00" rx="7.85" ry="2.10" fill="#000" opacity="0.425"/>
<ellipse cx="89.25" cy="336.00" rx="7.35" ry="1.70" fill="#000" opacity="0.190"/>
<ellipse cx="110.00" cy="336.80" rx="7.35" ry="1.70" fill="#000" opacity="0.190"/>
<ellipse cx="131.25" cy="336.80" rx="7.35" ry="1.70" fill="#000" opacity="0.190"/>
<ellipse cx="151.50" cy="337.00" rx="7.35" ry="1.70" fill="#000" opacity="0.190"/>
<ellipse cx="172.00" cy="336.80" rx="7.35" ry="1.70" fill="#000" opacity="0.190"/>
<ellipse cx="191.25" cy="336.40" rx="7.35" ry="1.70" fill="#000" opacity="0.190"/>
<ellipse cx="210.50" cy="336.20" rx="7.35" ry="1.70" fill="#000" opacity="0.190"/>
<ellipse cx="230.00" cy="335.80" rx="7.35" ry="1.70" fill="#000" opacity="0.190"/>
<ellipse cx="249.50" cy="335.60" rx="7.35" ry="1.70" fill="#000" opacity="0.190"/>
<ellipse cx="270.00" cy="335.80" rx="7.35" ry="1.70" fill="#000" opacity="0.190"/>
<ellipse cx="290.50" cy="336.00" rx="7.35" ry="1.70" fill="#000" opacity="0.190"/>
<ellipse cx="310.75" cy="336.00" rx="7.35" ry="1.70" fill="#000" opacity="0.190"/>
</g>
<g filter="url(#b1)">
<rect x="84.85" y="249.50" width="8.80" height="1.00" rx="0.50" fill="#000" opacity="0.050"/>
<rect x="105.60" y="249.50" width="8.80" height="1.00" rx="0.50" fill="#000" opacity="0.060"/>
<rect x="126.85" y="249.50" width="8.80" height="1.00" rx="0.50" fill="#000" opacity="0.060"/>
<rect x="144.85" y="251.40" width="13.30" height="2.60" rx="1.30" fill="#000" opacity="0.950"/>
<rect x="164.60" y="250.80" width="14.80" height="4.00" rx="2.00" fill="#000" opacity="1.000"/>
<rect x="184.35" y="251.20" width="13.80" height="3.40" rx="1.70" fill="#000" opacity="1.000"/>
<rect x="206.10" y="250.50" width="8.80" height="1.00" rx="0.50" fill="#000" opacity="0.080"/>
<rect x="225.60" y="250.50" width="8.80" height="1.00" rx="0.50" fill="#000" opacity="0.080"/>
<rect x="245.10" y="249.80" width="8.80" height="1.40" rx="0.70" fill="#000" opacity="0.140"/>
<rect x="263.10" y="250.60" width="13.80" height="3.20" rx="1.60" fill="#000" opacity="0.950"/>
<rect x="284.10" y="250.40" width="12.80" height="3.20" rx="1.60" fill="#000" opacity="0.950"/>
<rect x="304.35" y="250.30" width="12.80" height="2.40" rx="1.20" fill="#000" opacity="0.900"/>
<rect x="81.85" y="283.10" width="14.80" height="4.00" rx="2.00" fill="#000" opacity="1.000"/>
<rect x="102.60" y="283.10" width="14.80" height="4.00" rx="2.00" fill="#000" opacity="1.000"/>
<rect x="123.85" y="283.00" width="14.80" height="4.00" rx="2.00" fill="#000" opacity="1.000"/>
<rect x="144.10" y="282.80" width="14.80" height="4.00" rx="2.00" fill="#000" opacity="1.000"/>
<rect x="164.60" y="282.50" width="14.80" height="4.00" rx="2.00" fill="#000" opacity="1.000"/>
<rect x="183.85" y="282.00" width="14.80" height="4.00" rx="2.00" fill="#000" opacity="1.000"/>
<rect x="203.10" y="281.50" width="14.80" height="4.00" rx="2.00" fill="#000" opacity="1.000"/>
<rect x="222.60" y="281.50" width="14.80" height="4.00" rx="2.00" fill="#000" opacity="1.000"/>
<rect x="242.10" y="281.50" width="14.80" height="4.00" rx="2.00" fill="#000" opacity="1.000"/>
<rect x="262.60" y="281.50" width="14.80" height="4.00" rx="2.00" fill="#000" opacity="1.000"/>
<rect x="283.10" y="281.70" width="14.80" height="4.00" rx="2.00" fill="#000" opacity="1.000"/>
<rect x="303.35" y="281.90" width="14.80" height="4.00" rx="2.00" fill="#000" opacity="1.000"/>
<rect x="84.85" y="310.05" width="8.80" height="0.90" rx="0.45" fill="#000" opacity="0.100"/>
<rect x="105.10" y="310.50" width="9.80" height="1.00" rx="0.50" fill="#000" opacity="0.280"/>
<rect x="126.85" y="310.75" width="8.80" height="0.90" rx="0.45" fill="#000" opacity="0.140"/>
<rect x="144.35" y="308.80" width="14.30" height="4.40" rx="2.20" fill="#000" opacity="1.000"/>
<rect x="164.60" y="308.70" width="14.80" height="4.60" rx="2.30" fill="#000" opacity="1.000"/>
<rect x="183.85" y="308.80" width="14.80" height="4.40" rx="2.20" fill="#000" opacity="1.000"/>
<rect x="206.10" y="310.00" width="8.80" height="1.00" rx="0.50" fill="#000" opacity="0.300"/>
<rect x="226.10" y="310.05" width="7.80" height="0.90" rx="0.45" fill="#000" opacity="0.100"/>
<rect x="244.60" y="309.40" width="9.80" height="1.20" rx="0.60" fill="#000" opacity="0.350"/>
<rect x="263.10" y="309.20" width="13.80" height="3.60" rx="1.80" fill="#000" opacity="0.950"/>
<rect x="283.10" y="309.10" width="14.80" height="4.40" rx="2.20" fill="#000" opacity="1.000"/>
<rect x="303.35" y="308.80" width="14.80" height="4.40" rx="2.20" fill="#000" opacity="1.000"/>
<rect x="82.60" y="337.90" width="13.30" height="2.20" rx="1.10" fill="#000" opacity="0.850"/>
<rect x="103.35" y="338.70" width="13.30" height="2.20" rx="1.10" fill="#000" opacity="0.850"/>
<rect x="124.60" y="338.70" width="13.30" height="2.20" rx="1.10" fill="#000" opacity="0.850"/>
<rect x="144.85" y="338.90" width="13.30" height="2.20" rx="1.10" fill="#000" opacity="0.850"/>
<rect x="165.35" y="338.70" width="13.30" height="2.20" rx="1.10" fill="#000" opacity="0.850"/>
<rect x="184.60" y="338.30" width="13.30" height="2.20" rx="1.10" fill="#000" opacity="0.850"/>
<rect x="203.85" y="338.10" width="13.30" height="2.20" rx="1.10" fill="#000" opacity="0.850"/>
<rect x="223.35" y="337.70" width="13.30" height="2.20" rx="1.10" fill="#000" opacity="0.850"/>
<rect x="242.85" y="337.50" width="13.30" height="2.20" rx="1.10" fill="#000" opacity="0.850"/>
<rect x="263.35" y="337.70" width="13.30" height="2.20" rx="1.10" fill="#000" opacity="0.850"/>
<rect x="283.85" y="337.90" width="13.30" height="2.20" rx="1.10" fill="#000" opacity="0.850"/>
<rect x="304.10" y="337.90" width="13.30" height="2.20" rx="1.10" fill="#000" opacity="0.850"/>
<rect x="83.10" y="335.30" width="12.30" height="1.40" rx="0.70" fill="#000" opacity="0.380"/>
<rect x="103.85" y="336.10" width="12.30" height="1.40" rx="0.70" fill="#000" opacity="0.380"/>
<rect x="125.10" y="336.10" width="12.30" height="1.40" rx="0.70" fill="#000" opacity="0.380"/>
<rect x="145.35" y="336.30" width="12.30" height="1.40" rx="0.70" fill="#000" opacity="0.380"/>
<rect x="165.85" y="336.10" width="12.30" height="1.40" rx="0.70" fill="#000" opacity="0.380"/>
<rect x="185.10" y="335.70" width="12.30" height="1.40" rx="0.70" fill="#000" opacity="0.380"/>
<rect x="204.35" y="335.50" width="12.30" height="1.40" rx="0.70" fill="#000" opacity="0.380"/>
<rect x="223.85" y="335.10" width="12.30" height="1.40" rx="0.70" fill="#000" opacity="0.380"/>
<rect x="243.35" y="334.90" width="12.30" height="1.40" rx="0.70" fill="#000" opacity="0.380"/>
<rect x="263.85" y="335.10" width="12.30" height="1.40" rx="0.70" fill="#000" opacity="0.380"/>
<rect x="284.35" y="335.30" width="12.30" height="1.40" rx="0.70" fill="#000" opacity="0.380"/>
<rect x="304.60" y="335.30" width="12.30" height="1.40" rx="0.70" fill="#000" opacity="0.380"/>
</g>
</g>
<text x="73.75" y="259.35" font-size="13.8" fill="#2b2728" text-anchor="end" stroke="#2b2728" stroke-width="0.22" textLength="55.50" lengthAdjust="spacingAndGlyphs">pAMPKα</text>
<text x="73.75" y="290.10" font-size="13.8" fill="#2b2728" text-anchor="end" stroke="#2b2728" stroke-width="0.22" textLength="47.50" lengthAdjust="spacingAndGlyphs">AMPKα</text>
<text x="73.75" y="321.85" font-size="13.8" fill="#2b2728" text-anchor="end" stroke="#2b2728" stroke-width="0.22" textLength="36.00" lengthAdjust="spacingAndGlyphs">pACC</text>
<text x="73.75" y="353.60" font-size="13.8" fill="#2b2728" text-anchor="end" stroke="#2b2728" stroke-width="0.22" textLength="29.00" lengthAdjust="spacingAndGlyphs">ACC</text>
<line x1="324.00" y1="264.50" x2="329.50" y2="264.50" stroke="#3a3a3a" stroke-width="1.3"/>
<text x="335.00" y="268.85" font-size="13.8" fill="#2b2728" stroke="#2b2728" stroke-width="0.22" textLength="15.00" lengthAdjust="spacingAndGlyphs">50</text>
<line x1="324.00" y1="297.50" x2="329.50" y2="297.50" stroke="#3a3a3a" stroke-width="1.3"/>
<text x="335.00" y="302.60" font-size="13.8" fill="#2b2728" stroke="#2b2728" stroke-width="0.22" textLength="15.00" lengthAdjust="spacingAndGlyphs">50</text>
<line x1="324.00" y1="330.50" x2="329.50" y2="330.50" stroke="#3a3a3a" stroke-width="1.3"/>
<text x="335.00" y="335.10" font-size="13.8" fill="#2b2728" stroke="#2b2728" stroke-width="0.22" textLength="22.30" lengthAdjust="spacingAndGlyphs">120</text>
<line x1="324.00" y1="365.50" x2="329.50" y2="365.50" stroke="#3a3a3a" stroke-width="1.3"/>
<text x="335.00" y="368.10" font-size="13.8" fill="#2b2728" stroke="#2b2728" stroke-width="0.22" textLength="22.30" lengthAdjust="spacingAndGlyphs">120</text>
<text x="5.20" y="404.25" font-size="14.6" fill="#1a1a1a" font-weight="bold" stroke="#1a1a1a" stroke-width="0.45">f</text>
<text x="206.25" y="412.50" font-size="13.8" fill="#2b2728" stroke="#2b2728" stroke-width="0.22" textLength="95.75" lengthAdjust="spacingAndGlyphs">Perfused serum</text>
<line x1="203.75" y1="420.75" x2="305.00" y2="420.75" stroke="#4a4a4a" stroke-width="1.5"/>
<text x="108.75" y="437.50" font-size="13.8" fill="#2b2728" text-anchor="middle" stroke="#2b2728" stroke-width="0.22" textLength="16.00" lengthAdjust="spacingAndGlyphs">AL</text>
<line x1="86.25" y1="441.75" x2="129.25" y2="441.75" stroke="#3a3a3a" stroke-width="1.3"/>
<text x="165.00" y="437.50" font-size="13.8" fill="#2b2728" text-anchor="middle" stroke="#2b2728" stroke-width="0.22" textLength="19.00" lengthAdjust="spacingAndGlyphs">CR</text>
<line x1="145.75" y1="441.75" x2="188.75" y2="441.75" stroke="#3a3a3a" stroke-width="1.3"/>
<text x="225.00" y="437.50" font-size="13.8" fill="#2b2728" text-anchor="middle" stroke="#2b2728" stroke-width="0.22" textLength="16.00" lengthAdjust="spacingAndGlyphs">AL</text>
<line x1="203.25" y1="441.75" x2="246.25" y2="441.75" stroke="#3a3a3a" stroke-width="1.3"/>
<text x="281.25" y="437.50" font-size="13.8" fill="#2b2728" text-anchor="middle" stroke="#2b2728" stroke-width="0.22" textLength="19.00" lengthAdjust="spacingAndGlyphs">CR</text>
<line x1="262.00" y1="441.75" x2="305.00" y2="441.75" stroke="#3a3a3a" stroke-width="1.3"/>
<text x="327.00" y="453.00" font-size="13.8" fill="#2b2728" stroke="#2b2728" stroke-width="0.22" textLength="23.75" lengthAdjust="spacingAndGlyphs">kDa</text>
<clipPath id="c6"><rect x="75.75" y="445.50" width="244.25" height="131.10"/></clipPath>
<g clip-path="url(#c6)">
<rect x="75.75" y="445.50" width="244.25" height="131.10" fill="#f0f0f0"/>
<rect x="75.75" y="445.50" width="244.25" height="32.75" fill="#dadada"/>
<rect x="75.75" y="479.10" width="244.25" height="29.65" fill="#d0d0d0"/>
<rect x="75.75" y="509.75" width="244.25" height="31.35" fill="#e9e9e9"/>
<rect x="75.75" y="542.10" width="244.25" height="34.50" fill="#d2d2d2"/>
<rect x="75.75" y="445.50" width="244.25" height="131.10" filter="url(#nz)" opacity="0.32"/>
<g filter="url(#b2)">
<rect x="139.50" y="510.50" width="15.00" height="8.00" rx="1.5" fill="#000" opacity="0.62"/>
<rect x="179.90" y="510.50" width="15.00" height="8.00" rx="1.5" fill="#000" opacity="0.62"/>
<rect x="160.50" y="511.75" width="13.00" height="6.50" rx="1.5" fill="#000" opacity="0.4"/>
<rect x="259.60" y="510.50" width="16.00" height="8.00" rx="1.5" fill="#000" opacity="0.68"/>
<rect x="280.10" y="510.50" width="16.00" height="8.00" rx="1.5" fill="#000" opacity="0.68"/>
<rect x="301.90" y="510.50" width="16.00" height="8.00" rx="1.5" fill="#000" opacity="0.68"/>
<rect x="79.00" y="543.00" width="14.00" height="4.00" rx="1.5" fill="#000" opacity="0.18"/>
<rect x="100.75" y="543.00" width="14.00" height="4.00" rx="1.5" fill="#000" opacity="0.18"/>
<rect x="121.25" y="543.00" width="14.00" height="4.00" rx="1.5" fill="#000" opacity="0.18"/>
<rect x="141.00" y="543.00" width="14.00" height="4.00" rx="1.5" fill="#000" opacity="0.18"/>
<rect x="161.40" y="543.00" width="14.00" height="4.00" rx="1.5" fill="#000" opacity="0.18"/>
<rect x="180.90" y="543.00" width="14.00" height="4.00" rx="1.5" fill="#000" opacity="0.18"/>
<rect x="201.25" y="543.00" width="14.00" height="4.00" rx="1.5" fill="#000" opacity="0.18"/>
<rect x="220.50" y="543.00" width="14.00" height="4.00" rx="1.5" fill="#000" opacity="0.18"/>
<rect x="240.50" y="543.00" width="14.00" height="4.00" rx="1.5" fill="#000" opacity="0.18"/>
<rect x="261.00" y="543.00" width="14.00" height="4.00" rx="1.5" fill="#000" opacity="0.18"/>
<rect x="281.60" y="543.00" width="14.00" height="4.00" rx="1.5" fill="#000" opacity="0.18"/>
<rect x="303.60" y="543.00" width="14.00" height="4.00" rx="1.5" fill="#000" opacity="0.18"/>
<rect x="202.25" y="552.00" width="12.00" height="8.00" rx="1.5" fill="#000" opacity="0.06"/>
<rect x="221.50" y="552.00" width="12.00" height="8.00" rx="1.5" fill="#000" opacity="0.06"/>
<rect x="241.50" y="552.00" width="12.00" height="8.00" rx="1.5" fill="#000" opacity="0.06"/>
<rect x="262.00" y="552.00" width="12.00" height="8.00" rx="1.5" fill="#000" opacity="0.06"/>
<rect x="261.00" y="466.50" width="12.00" height="4.00" rx="1.5" fill="#000" opacity="0.07"/>
<rect x="281.00" y="466.50" width="12.00" height="4.00" rx="1.5" fill="#000" opacity="0.07"/>
<rect x="301.50" y="466.50" width="12.00" height="4.00" rx="1.5" fill="#000" opacity="0.07"/>
</g>
<g filter="url(#b3)">
<ellipse cx="85.75" cy="458.00" rx="5.10" ry="1.50" fill="#000" opacity="0.025"/>
<ellipse cx="105.00" cy="458.00" rx="5.10" ry="1.50" fill="#000" opacity="0.040"/>
<ellipse cx="125.75" cy="458.50" rx="5.60" ry="1.70" fill="#000" opacity="0.070"/>
<ellipse cx="146.00" cy="461.40" rx="8.35" ry="3.00" fill="#000" opacity="0.500"/>
<ellipse cx="166.00" cy="461.50" rx="8.35" ry="3.00" fill="#000" opacity="0.500"/>
<ellipse cx="186.00" cy="461.60" rx="8.35" ry="3.00" fill="#000" opacity="0.500"/>
<ellipse cx="206.25" cy="459.50" rx="5.60" ry="1.80" fill="#000" opacity="0.080"/>
<ellipse cx="226.50" cy="459.00" rx="5.60" ry="1.80" fill="#000" opacity="0.080"/>
<ellipse cx="247.00" cy="459.00" rx="5.60" ry="1.80" fill="#000" opacity="0.070"/>
<ellipse cx="267.00" cy="460.00" rx="8.60" ry="3.00" fill="#000" opacity="0.500"/>
<ellipse cx="287.00" cy="458.00" rx="8.10" ry="3.20" fill="#000" opacity="0.500"/>
<ellipse cx="307.50" cy="458.60" rx="8.10" ry="2.80" fill="#000" opacity="0.500"/>
<ellipse cx="85.75" cy="490.90" rx="8.60" ry="2.80" fill="#000" opacity="0.500"/>
<ellipse cx="105.00" cy="492.70" rx="8.60" ry="2.80" fill="#000" opacity="0.500"/>
<ellipse cx="125.75" cy="492.70" rx="8.60" ry="2.80" fill="#000" opacity="0.500"/>
<ellipse cx="146.00" cy="492.50" rx="8.60" ry="2.80" fill="#000" opacity="0.500"/>
<ellipse cx="166.00" cy="492.70" rx="8.60" ry="2.80" fill="#000" opacity="0.500"/>
<ellipse cx="186.00" cy="492.70" rx="8.60" ry="2.80" fill="#000" opacity="0.500"/>
<ellipse cx="206.25" cy="492.90" rx="8.60" ry="2.80" fill="#000" opacity="0.500"/>
<ellipse cx="226.50" cy="492.30" rx="8.60" ry="2.80" fill="#000" opacity="0.500"/>
<ellipse cx="247.00" cy="491.70" rx="8.60" ry="2.80" fill="#000" opacity="0.500"/>
<ellipse cx="267.00" cy="492.10" rx="8.60" ry="2.80" fill="#000" opacity="0.500"/>
<ellipse cx="287.00" cy="491.10" rx="8.60" ry="2.80" fill="#000" opacity="0.500"/>
<ellipse cx="307.50" cy="490.50" rx="8.60" ry="2.80" fill="#000" opacity="0.500"/>
<ellipse cx="85.75" cy="519.30" rx="4.10" ry="1.20" fill="#000" opacity="0.050"/>
<ellipse cx="105.00" cy="519.30" rx="5.10" ry="1.30" fill="#000" opacity="0.100"/>
<ellipse cx="127.00" cy="518.80" rx="5.10" ry="1.50" fill="#000" opacity="0.150"/>
<ellipse cx="147.00" cy="519.70" rx="8.35" ry="3.00" fill="#000" opacity="0.500"/>
<ellipse cx="167.00" cy="519.70" rx="7.60" ry="2.60" fill="#000" opacity="0.475"/>
<ellipse cx="187.40" cy="519.70" rx="8.35" ry="3.00" fill="#000" opacity="0.500"/>
<ellipse cx="207.50" cy="519.50" rx="6.60" ry="1.50" fill="#000" opacity="0.150"/>
<ellipse cx="227.25" cy="519.50" rx="6.60" ry="1.50" fill="#000" opacity="0.150"/>
<ellipse cx="248.00" cy="518.90" rx="6.60" ry="1.60" fill="#000" opacity="0.160"/>
<ellipse cx="267.60" cy="519.10" rx="8.60" ry="3.20" fill="#000" opacity="0.500"/>
<ellipse cx="288.10" cy="519.30" rx="8.60" ry="3.20" fill="#000" opacity="0.500"/>
<ellipse cx="309.90" cy="519.30" rx="8.60" ry="3.20" fill="#000" opacity="0.500"/>
<ellipse cx="86.00" cy="549.20" rx="9.35" ry="4.00" fill="#000" opacity="0.500"/>
<ellipse cx="107.75" cy="549.80" rx="8.85" ry="3.20" fill="#000" opacity="0.500"/>
<ellipse cx="128.25" cy="550.00" rx="8.35" ry="2.90" fill="#000" opacity="0.500"/>
<ellipse cx="148.00" cy="550.20" rx="8.35" ry="2.80" fill="#000" opacity="0.500"/>
<ellipse cx="168.40" cy="549.80" rx="8.10" ry="2.50" fill="#000" opacity="0.475"/>
<ellipse cx="187.90" cy="549.80" rx="7.60" ry="2.20" fill="#000" opacity="0.475"/>
<ellipse cx="208.25" cy="549.40" rx="8.10" ry="2.80" fill="#000" opacity="0.500"/>
<ellipse cx="227.50" cy="549.60" rx="8.35" ry="2.90" fill="#000" opacity="0.500"/>
<ellipse cx="247.50" cy="550.20" rx="8.35" ry="2.80" fill="#000" opacity="0.500"/>
<ellipse cx="268.00" cy="549.80" rx="8.35" ry="2.80" fill="#000" opacity="0.500"/>
<ellipse cx="288.60" cy="549.80" rx="8.35" ry="2.60" fill="#000" opacity="0.500"/>
<ellipse cx="310.60" cy="549.40" rx="8.60" ry="2.80" fill="#000" opacity="0.500"/>
</g>
<g filter="url(#b1)">
<rect x="81.85" y="457.50" width="7.80" height="1.00" rx="0.50" fill="#000" opacity="0.050"/>
<rect x="101.10" y="457.50" width="7.80" height="1.00" rx="0.50" fill="#000" opacity="0.080"/>
<rect x="121.35" y="457.80" width="8.80" height="1.40" rx="0.70" fill="#000" opacity="0.140"/>
<rect x="138.85" y="459.40" width="14.30" height="4.00" rx="2.00" fill="#000" opacity="1.000"/>
<rect x="158.85" y="459.50" width="14.30" height="4.00" rx="2.00" fill="#000" opacity="1.000"/>
<rect x="178.85" y="459.60" width="14.30" height="4.00" rx="2.00" fill="#000" opacity="1.000"/>
<rect x="201.85" y="458.70" width="8.80" height="1.60" rx="0.80" fill="#000" opacity="0.160"/>
<rect x="222.10" y="458.20" width="8.80" height="1.60" rx="0.80" fill="#000" opacity="0.160"/>
<rect x="242.60" y="458.20" width="8.80" height="1.60" rx="0.80" fill="#000" opacity="0.140"/>
<rect x="259.60" y="458.00" width="14.80" height="4.00" rx="2.00" fill="#000" opacity="1.000"/>
<rect x="280.10" y="455.80" width="13.80" height="4.40" rx="2.20" fill="#000" opacity="1.000"/>
<rect x="300.60" y="456.80" width="13.80" height="3.60" rx="1.80" fill="#000" opacity="1.000"/>
<rect x="78.35" y="489.10" width="14.80" height="3.60" rx="1.80" fill="#000" opacity="1.000"/>
<rect x="97.60" y="490.90" width="14.80" height="3.60" rx="1.80" fill="#000" opacity="1.000"/>
<rect x="118.35" y="490.90" width="14.80" height="3.60" rx="1.80" fill="#000" opacity="1.000"/>
<rect x="138.60" y="490.70" width="14.80" height="3.60" rx="1.80" fill="#000" opacity="1.000"/>
<rect x="158.60" y="490.90" width="14.80" height="3.60" rx="1.80" fill="#000" opacity="1.000"/>
<rect x="178.60" y="490.90" width="14.80" height="3.60" rx="1.80" fill="#000" opacity="1.000"/>
<rect x="198.85" y="491.10" width="14.80" height="3.60" rx="1.80" fill="#000" opacity="1.000"/>
<rect x="219.10" y="490.50" width="14.80" height="3.60" rx="1.80" fill="#000" opacity="1.000"/>
<rect x="239.60" y="489.90" width="14.80" height="3.60" rx="1.80" fill="#000" opacity="1.000"/>
<rect x="259.60" y="490.30" width="14.80" height="3.60" rx="1.80" fill="#000" opacity="1.000"/>
<rect x="279.60" y="489.30" width="14.80" height="3.60" rx="1.80" fill="#000" opacity="1.000"/>
<rect x="300.10" y="488.70" width="14.80" height="3.60" rx="1.80" fill="#000" opacity="1.000"/>
<rect x="82.85" y="518.85" width="5.80" height="0.90" rx="0.45" fill="#000" opacity="0.100"/>
<rect x="101.10" y="518.85" width="7.80" height="0.90" rx="0.45" fill="#000" opacity="0.200"/>
<rect x="123.10" y="518.30" width="7.80" height="1.00" rx="0.50" fill="#000" opacity="0.300"/>
<rect x="139.85" y="517.70" width="14.30" height="4.00" rx="2.00" fill="#000" opacity="1.000"/>
<rect x="160.60" y="518.10" width="12.80" height="3.20" rx="1.60" fill="#000" opacity="0.950"/>
<rect x="180.25" y="517.70" width="14.30" height="4.00" rx="2.00" fill="#000" opacity="1.000"/>
<rect x="202.10" y="519.00" width="10.80" height="1.00" rx="0.50" fill="#000" opacity="0.300"/>
<rect x="221.85" y="519.00" width="10.80" height="1.00" rx="0.50" fill="#000" opacity="0.300"/>
<rect x="242.60" y="518.30" width="10.80" height="1.20" rx="0.60" fill="#000" opacity="0.320"/>
<rect x="260.20" y="516.90" width="14.80" height="4.40" rx="2.20" fill="#000" opacity="1.000"/>
<rect x="280.70" y="517.10" width="14.80" height="4.40" rx="2.20" fill="#000" opacity="1.000"/>
<rect x="302.50" y="517.10" width="14.80" height="4.40" rx="2.20" fill="#000" opacity="1.000"/>
<rect x="77.85" y="546.20" width="16.30" height="6.00" rx="3.00" fill="#000" opacity="1.000"/>
<rect x="100.10" y="547.60" width="15.30" height="4.40" rx="2.20" fill="#000" opacity="1.000"/>
<rect x="121.10" y="548.10" width="14.30" height="3.80" rx="1.90" fill="#000" opacity="1.000"/>
<rect x="140.85" y="548.40" width="14.30" height="3.60" rx="1.80" fill="#000" opacity="1.000"/>
<rect x="161.50" y="548.30" width="13.80" height="3.00" rx="1.50" fill="#000" opacity="0.950"/>
<rect x="181.50" y="548.60" width="12.80" height="2.40" rx="1.20" fill="#000" opacity="0.950"/>
<rect x="201.35" y="547.60" width="13.80" height="3.60" rx="1.80" fill="#000" opacity="1.000"/>
<rect x="220.35" y="547.70" width="14.30" height="3.80" rx="1.90" fill="#000" opacity="1.000"/>
<rect x="240.35" y="548.40" width="14.30" height="3.60" rx="1.80" fill="#000" opacity="1.000"/>
<rect x="260.85" y="548.00" width="14.30" height="3.60" rx="1.80" fill="#000" opacity="1.000"/>
<rect x="281.45" y="548.20" width="14.30" height="3.20" rx="1.60" fill="#000" opacity="1.000"/>
<rect x="303.20" y="547.60" width="14.80" height="3.60" rx="1.80" fill="#000" opacity="1.000"/>
</g>
</g>
<text x="69.40" y="469.20" font-size="13.8" fill="#2b2728" text-anchor="end" stroke="#2b2728" stroke-width="0.22" textLength="55.50" lengthAdjust="spacingAndGlyphs">pAMPKα</text>
<text x="69.40" y="501.40" font-size="13.8" fill="#2b2728" text-anchor="end" stroke="#2b2728" stroke-width="0.22" textLength="47.50" lengthAdjust="spacingAndGlyphs">AMPKα</text>
<text x="69.40" y="534.60" font-size="13.8" fill="#2b2728" text-anchor="end" stroke="#2b2728" stroke-width="0.22" textLength="36.00" lengthAdjust="spacingAndGlyphs">pACC</text>
<text x="69.40" y="568.40" font-size="13.8" fill="#2b2728" text-anchor="end" stroke="#2b2728" stroke-width="0.22" textLength="29.00" lengthAdjust="spacingAndGlyphs">ACC</text>
<line x1="320.00" y1="473.50" x2="325.50" y2="473.50" stroke="#3a3a3a" stroke-width="1.3"/>
<text x="331.25" y="478.60" font-size="13.8" fill="#2b2728" stroke="#2b2728" stroke-width="0.22" textLength="15.00" lengthAdjust="spacingAndGlyphs">50</text>
<line x1="320.00" y1="502.50" x2="325.50" y2="502.50" stroke="#3a3a3a" stroke-width="1.3"/>
<text x="331.25" y="507.60" font-size="13.8" fill="#2b2728" stroke="#2b2728" stroke-width="0.22" textLength="15.00" lengthAdjust="spacingAndGlyphs">50</text>
<line x1="320.00" y1="540.50" x2="325.50" y2="540.50" stroke="#3a3a3a" stroke-width="1.3"/>
<text x="331.25" y="544.85" font-size="13.8" fill="#2b2728" stroke="#2b2728" stroke-width="0.22" textLength="22.30" lengthAdjust="spacingAndGlyphs">120</text>
<line x1="320.00" y1="576.50" x2="325.50" y2="576.50" stroke="#3a3a3a" stroke-width="1.3"/>
<text x="331.25" y="580.10" font-size="13.8" fill="#2b2728" stroke="#2b2728" stroke-width="0.22" textLength="22.30" lengthAdjust="spacingAndGlyphs">120</text>
<text x="767.60" y="196.75" font-size="15.7" fill="#1a1a1a" font-weight="bold" stroke="#1a1a1a" stroke-width="0.45">h</text>
<text x="805.50" y="221.75" font-size="13.8" fill="#2b2728" text-anchor="end" stroke="#2b2728" stroke-width="0.22" textLength="19.00" lengthAdjust="spacingAndGlyphs">CR</text>
<text x="805.50" y="235.00" font-size="13.8" fill="#2b2728" text-anchor="end" stroke="#2b2728" stroke-width="0.22" textLength="38.00" lengthAdjust="spacingAndGlyphs">serum</text>
<line x1="810.50" y1="201.75" x2="810.50" y2="242.00" stroke="#2b2728" stroke-width="1.0"/>
<text x="898.00" y="210.75" font-size="13.8" fill="#2b2728" text-anchor="end" stroke="#2b2728" stroke-width="0.22" textLength="80.50" lengthAdjust="spacingAndGlyphs">Unprocessed</text>
<text x="898.00" y="228.00" font-size="13.8" fill="#2b2728" text-anchor="end" stroke="#2b2728" stroke-width="0.22" textLength="43.00" lengthAdjust="spacingAndGlyphs">Heated</text>
<text x="898.00" y="245.00" font-size="13.8" fill="#2b2728" text-anchor="end" stroke="#2b2728" stroke-width="0.22" textLength="50.50" lengthAdjust="spacingAndGlyphs">Dialysed</text>
<line x1="911.45" y1="206.80" x2="919.15" y2="206.80" stroke="#2b2728" stroke-width="1.3"/>
<line x1="931.40" y1="206.80" x2="938.80" y2="206.80" stroke="#2b2728" stroke-width="1.05"/>
<line x1="935.10" y1="203.00" x2="935.10" y2="210.60" stroke="#2b2728" stroke-width="1.05"/>
<line x1="953.20" y1="206.80" x2="960.60" y2="206.80" stroke="#2b2728" stroke-width="1.05"/>
<line x1="956.90" y1="203.00" x2="956.90" y2="210.60" stroke="#2b2728" stroke-width="1.05"/>
<line x1="972.50" y1="206.80" x2="979.90" y2="206.80" stroke="#2b2728" stroke-width="1.05"/>
<line x1="976.20" y1="203.00" x2="976.20" y2="210.60" stroke="#2b2728" stroke-width="1.05"/>
<line x1="911.45" y1="224.20" x2="919.15" y2="224.20" stroke="#2b2728" stroke-width="1.3"/>
<line x1="931.25" y1="224.20" x2="938.95" y2="224.20" stroke="#2b2728" stroke-width="1.3"/>
<line x1="953.20" y1="224.20" x2="960.60" y2="224.20" stroke="#2b2728" stroke-width="1.05"/>
<line x1="956.90" y1="220.40" x2="956.90" y2="228.00" stroke="#2b2728" stroke-width="1.05"/>
<line x1="972.35" y1="224.20" x2="980.05" y2="224.20" stroke="#2b2728" stroke-width="1.3"/>
<line x1="911.45" y1="240.90" x2="919.15" y2="240.90" stroke="#2b2728" stroke-width="1.3"/>
<line x1="931.25" y1="240.90" x2="938.95" y2="240.90" stroke="#2b2728" stroke-width="1.3"/>
<line x1="953.05" y1="240.90" x2="960.75" y2="240.90" stroke="#2b2728" stroke-width="1.3"/>
<line x1="972.50" y1="240.90" x2="979.90" y2="240.90" stroke="#2b2728" stroke-width="1.05"/>
<line x1="976.20" y1="237.10" x2="976.20" y2="244.70" stroke="#2b2728" stroke-width="1.05"/>
<text x="994.25" y="255.50" font-size="13.8" fill="#2b2728" stroke="#2b2728" stroke-width="0.22" textLength="23.75" lengthAdjust="spacingAndGlyphs">kDa</text>
<clipPath id="c7"><rect x="906.40" y="247.80" width="80.60" height="120.95"/></clipPath>
<g clip-path="url(#c7)">
<rect x="906.40" y="247.80" width="80.60" height="120.95" fill="#f2f2f2"/>
<rect x="906.40" y="247.80" width="80.60" height="33.20" fill="#e0e0e0"/>
<rect x="906.40" y="282.00" width="80.60" height="38.90" fill="#d3d3d3"/>
<rect x="906.40" y="321.90" width="80.60" height="24.00" fill="#dedede"/>
<rect x="906.40" y="346.90" width="80.60" height="21.85" fill="#d2d2d2"/>
<rect x="906.40" y="247.80" width="80.60" height="120.95" filter="url(#nz)" opacity="0.32"/>
<g filter="url(#b2)">
<rect x="930.20" y="321.50" width="14.00" height="5.00" rx="1.5" fill="#000" opacity="0.35"/>
<rect x="950.00" y="321.50" width="14.00" height="5.00" rx="1.5" fill="#000" opacity="0.3"/>
<rect x="926.50" y="330.00" width="13.00" height="14.00" rx="1.5" fill="#000" opacity="0.1"/>
<rect x="949.00" y="330.00" width="12.00" height="8.00" rx="1.5" fill="#000" opacity="0.05"/>
</g>
<g filter="url(#b3)">
<ellipse cx="936.00" cy="262.50" rx="7.35" ry="2.30" fill="#000" opacity="0.440"/>
<ellipse cx="956.75" cy="262.50" rx="7.35" ry="2.30" fill="#000" opacity="0.440"/>
<ellipse cx="915.50" cy="297.00" rx="8.35" ry="3.00" fill="#000" opacity="0.500"/>
<ellipse cx="935.50" cy="296.60" rx="8.35" ry="3.00" fill="#000" opacity="0.500"/>
<ellipse cx="956.00" cy="296.80" rx="8.35" ry="3.00" fill="#000" opacity="0.500"/>
<ellipse cx="976.75" cy="297.60" rx="8.35" ry="3.00" fill="#000" opacity="0.500"/>
<ellipse cx="916.00" cy="328.30" rx="6.10" ry="1.50" fill="#000" opacity="0.060"/>
<ellipse cx="937.20" cy="327.70" rx="7.85" ry="2.90" fill="#000" opacity="0.450"/>
<ellipse cx="957.00" cy="327.50" rx="7.85" ry="2.80" fill="#000" opacity="0.450"/>
<ellipse cx="978.50" cy="327.90" rx="5.60" ry="1.50" fill="#000" opacity="0.070"/>
<ellipse cx="916.60" cy="352.30" rx="8.60" ry="2.50" fill="#000" opacity="0.475"/>
<ellipse cx="937.80" cy="351.50" rx="8.10" ry="2.50" fill="#000" opacity="0.475"/>
<ellipse cx="958.40" cy="351.50" rx="7.85" ry="2.50" fill="#000" opacity="0.475"/>
<ellipse cx="978.70" cy="351.80" rx="8.10" ry="2.50" fill="#000" opacity="0.475"/>
</g>
<g filter="url(#b1)">
<rect x="929.85" y="261.20" width="12.30" height="2.60" rx="1.30" fill="#000" opacity="0.880"/>
<rect x="950.60" y="261.20" width="12.30" height="2.60" rx="1.30" fill="#000" opacity="0.880"/>
<rect x="908.35" y="295.00" width="14.30" height="4.00" rx="2.00" fill="#000" opacity="1.000"/>
<rect x="928.35" y="294.60" width="14.30" height="4.00" rx="2.00" fill="#000" opacity="1.000"/>
<rect x="948.85" y="294.80" width="14.30" height="4.00" rx="2.00" fill="#000" opacity="1.000"/>
<rect x="969.60" y="295.60" width="14.30" height="4.00" rx="2.00" fill="#000" opacity="1.000"/>
<rect x="911.10" y="327.80" width="9.80" height="1.00" rx="0.50" fill="#000" opacity="0.120"/>
<rect x="930.55" y="325.80" width="13.30" height="3.80" rx="1.90" fill="#000" opacity="0.900"/>
<rect x="950.35" y="325.70" width="13.30" height="3.60" rx="1.80" fill="#000" opacity="0.900"/>
<rect x="974.10" y="327.40" width="8.80" height="1.00" rx="0.50" fill="#000" opacity="0.140"/>
<rect x="909.20" y="350.80" width="14.80" height="3.00" rx="1.50" fill="#000" opacity="0.950"/>
<rect x="930.90" y="350.00" width="13.80" height="3.00" rx="1.50" fill="#000" opacity="0.950"/>
<rect x="951.75" y="350.00" width="13.30" height="3.00" rx="1.50" fill="#000" opacity="0.950"/>
<rect x="971.80" y="350.30" width="13.80" height="3.00" rx="1.50" fill="#000" opacity="0.950"/>
</g>
</g>
<text x="898.50" y="271.35" font-size="13.8" fill="#2b2728" text-anchor="end" stroke="#2b2728" stroke-width="0.22" textLength="55.50" lengthAdjust="spacingAndGlyphs">pAMPKα</text>
<text x="898.50" y="306.85" font-size="13.8" fill="#2b2728" text-anchor="end" stroke="#2b2728" stroke-width="0.22" textLength="47.50" lengthAdjust="spacingAndGlyphs">AMPKα</text>
<text x="898.50" y="339.85" font-size="13.8" fill="#2b2728" text-anchor="end" stroke="#2b2728" stroke-width="0.22" textLength="36.00" lengthAdjust="spacingAndGlyphs">pACC</text>
<text x="898.50" y="363.10" font-size="13.8" fill="#2b2728" text-anchor="end" stroke="#2b2728" stroke-width="0.22" textLength="29.00" lengthAdjust="spacingAndGlyphs">ACC</text>
<line x1="986.75" y1="279.50" x2="992.50" y2="279.50" stroke="#3a3a3a" stroke-width="1.3"/>
<text x="998.75" y="284.85" font-size="13.8" fill="#2b2728" stroke="#2b2728" stroke-width="0.22" textLength="15.00" lengthAdjust="spacingAndGlyphs">50</text>
<line x1="986.75" y1="319.50" x2="992.50" y2="319.50" stroke="#3a3a3a" stroke-width="1.3"/>
<text x="998.75" y="324.85" font-size="13.8" fill="#2b2728" stroke="#2b2728" stroke-width="0.22" textLength="15.00" lengthAdjust="spacingAndGlyphs">50</text>
<line x1="986.75" y1="343.50" x2="992.50" y2="343.50" stroke="#3a3a3a" stroke-width="1.3"/>
<text x="998.75" y="348.85" font-size="13.8" fill="#2b2728" stroke="#2b2728" stroke-width="0.22" textLength="22.30" lengthAdjust="spacingAndGlyphs">120</text>
<line x1="986.75" y1="366.50" x2="992.50" y2="366.50" stroke="#3a3a3a" stroke-width="1.3"/>
<text x="998.75" y="370.60" font-size="13.8" fill="#2b2728" stroke="#2b2728" stroke-width="0.22" textLength="22.30" lengthAdjust="spacingAndGlyphs">120</text>
<text x="768.00" y="413.30" font-size="14.8" fill="#1a1a1a" font-weight="bold" stroke="#1a1a1a" stroke-width="0.45">i</text>
<text x="810.00" y="426.25" font-size="13.8" fill="#2b2728" text-anchor="end" stroke="#2b2728" stroke-width="0.22" textLength="19.00" lengthAdjust="spacingAndGlyphs">CR</text>
<text x="809.50" y="440.00" font-size="13.8" fill="#2b2728" text-anchor="end" stroke="#2b2728" stroke-width="0.22" textLength="38.00" lengthAdjust="spacingAndGlyphs">serum</text>
<line x1="813.50" y1="419.50" x2="813.50" y2="438.80" stroke="#2b2728" stroke-width="1.0"/>
<text x="897.50" y="426.25" font-size="13.8" fill="#2b2728" text-anchor="end" stroke="#2b2728" stroke-width="0.22" textLength="80.50" lengthAdjust="spacingAndGlyphs">Unprocessed</text>
<text x="894.50" y="440.75" font-size="13.8" fill="#2b2728" text-anchor="end" stroke="#2b2728" stroke-width="0.22" textLength="44.00" lengthAdjust="spacingAndGlyphs">Lipidex</text>
<line x1="908.35" y1="422.90" x2="916.05" y2="422.90" stroke="#2b2728" stroke-width="1.3"/>
<line x1="930.40" y1="422.90" x2="937.80" y2="422.90" stroke="#2b2728" stroke-width="1.05"/>
<line x1="934.10" y1="419.10" x2="934.10" y2="426.70" stroke="#2b2728" stroke-width="1.05"/>
<line x1="954.20" y1="422.90" x2="961.60" y2="422.90" stroke="#2b2728" stroke-width="1.05"/>
<line x1="957.90" y1="419.10" x2="957.90" y2="426.70" stroke="#2b2728" stroke-width="1.05"/>
<line x1="908.35" y1="437.20" x2="916.05" y2="437.20" stroke="#2b2728" stroke-width="1.3"/>
<line x1="930.25" y1="437.20" x2="937.95" y2="437.20" stroke="#2b2728" stroke-width="1.3"/>
<line x1="954.20" y1="437.20" x2="961.60" y2="437.20" stroke="#2b2728" stroke-width="1.05"/>
<line x1="957.90" y1="433.40" x2="957.90" y2="441.00" stroke="#2b2728" stroke-width="1.05"/>
<text x="975.00" y="450.00" font-size="13.8" fill="#2b2728" stroke="#2b2728" stroke-width="0.22" textLength="23.75" lengthAdjust="spacingAndGlyphs">kDa</text>
<clipPath id="c8"><rect x="903.00" y="443.25" width="65.00" height="125.00"/></clipPath>
<g clip-path="url(#c8)">
<rect x="903.00" y="443.25" width="65.00" height="125.00" fill="#f2f2f2"/>
<rect x="903.00" y="443.25" width="65.00" height="32.50" fill="#dedede"/>
<rect x="903.00" y="476.75" width="65.00" height="32.75" fill="#cfcfcf"/>
<rect x="903.00" y="510.50" width="65.00" height="31.00" fill="#e0e0e0"/>
<rect x="903.00" y="542.50" width="65.00" height="25.75" fill="#d4d4d4"/>
<rect x="903.00" y="443.25" width="65.00" height="125.00" filter="url(#nz)" opacity="0.32"/>
<g filter="url(#b2)">
<rect x="927.00" y="512.50" width="14.00" height="4.00" rx="1.5" fill="#000" opacity="0.2"/>
<rect x="950.00" y="512.50" width="14.00" height="4.00" rx="1.5" fill="#000" opacity="0.12"/>
<rect x="906.00" y="544.25" width="13.00" height="2.50" rx="1.5" fill="#000" opacity="0.2"/>
<rect x="927.75" y="544.25" width="13.00" height="2.50" rx="1.5" fill="#000" opacity="0.2"/>
<rect x="951.00" y="544.25" width="13.00" height="2.50" rx="1.5" fill="#000" opacity="0.2"/>
</g>
<g filter="url(#b3)">
<ellipse cx="912.50" cy="456.50" rx="5.10" ry="1.30" fill="#000" opacity="0.030"/>
<ellipse cx="934.25" cy="457.50" rx="7.60" ry="2.50" fill="#000" opacity="0.450"/>
<ellipse cx="957.50" cy="456.10" rx="7.10" ry="1.80" fill="#000" opacity="0.250"/>
<ellipse cx="912.50" cy="494.25" rx="8.85" ry="3.20" fill="#000" opacity="0.500"/>
<ellipse cx="934.25" cy="494.25" rx="8.10" ry="2.70" fill="#000" opacity="0.500"/>
<ellipse cx="957.50" cy="494.25" rx="8.10" ry="2.80" fill="#000" opacity="0.500"/>
<ellipse cx="912.50" cy="518.85" rx="5.60" ry="1.30" fill="#000" opacity="0.070"/>
<ellipse cx="934.25" cy="518.25" rx="8.10" ry="2.70" fill="#000" opacity="0.475"/>
<ellipse cx="957.50" cy="518.25" rx="7.85" ry="2.10" fill="#000" opacity="0.400"/>
<ellipse cx="912.50" cy="549.50" rx="7.60" ry="2.30" fill="#000" opacity="0.450"/>
<ellipse cx="934.25" cy="549.50" rx="8.10" ry="2.60" fill="#000" opacity="0.475"/>
<ellipse cx="957.50" cy="549.50" rx="8.10" ry="2.60" fill="#000" opacity="0.475"/>
</g>
<g filter="url(#b1)">
<rect x="908.60" y="456.05" width="7.80" height="0.90" rx="0.45" fill="#000" opacity="0.060"/>
<rect x="927.85" y="456.00" width="12.80" height="3.00" rx="1.50" fill="#000" opacity="0.900"/>
<rect x="951.60" y="455.30" width="11.80" height="1.60" rx="0.80" fill="#000" opacity="0.500"/>
<rect x="904.85" y="492.05" width="15.30" height="4.40" rx="2.20" fill="#000" opacity="1.000"/>
<rect x="927.35" y="492.55" width="13.80" height="3.40" rx="1.70" fill="#000" opacity="1.000"/>
<rect x="950.60" y="492.45" width="13.80" height="3.60" rx="1.80" fill="#000" opacity="1.000"/>
<rect x="908.10" y="518.40" width="8.80" height="0.90" rx="0.45" fill="#000" opacity="0.140"/>
<rect x="927.35" y="516.55" width="13.80" height="3.40" rx="1.70" fill="#000" opacity="0.950"/>
<rect x="950.85" y="517.15" width="13.30" height="2.20" rx="1.10" fill="#000" opacity="0.800"/>
<rect x="906.10" y="548.20" width="12.80" height="2.60" rx="1.30" fill="#000" opacity="0.900"/>
<rect x="927.35" y="547.90" width="13.80" height="3.20" rx="1.60" fill="#000" opacity="0.950"/>
<rect x="950.60" y="547.90" width="13.80" height="3.20" rx="1.60" fill="#000" opacity="0.950"/>
</g>
</g>
<text x="898.00" y="466.85" font-size="13.8" fill="#2b2728" text-anchor="end" stroke="#2b2728" stroke-width="0.22" textLength="55.50" lengthAdjust="spacingAndGlyphs">pAMPKα</text>
<text x="898.00" y="498.10" font-size="13.8" fill="#2b2728" text-anchor="end" stroke="#2b2728" stroke-width="0.22" textLength="47.50" lengthAdjust="spacingAndGlyphs">AMPKα</text>
<text x="898.00" y="528.10" font-size="13.8" fill="#2b2728" text-anchor="end" stroke="#2b2728" stroke-width="0.22" textLength="36.00" lengthAdjust="spacingAndGlyphs">pACC</text>
<text x="898.00" y="558.10" font-size="13.8" fill="#2b2728" text-anchor="end" stroke="#2b2728" stroke-width="0.22" textLength="29.00" lengthAdjust="spacingAndGlyphs">ACC</text>
<line x1="967.75" y1="474.50" x2="973.75" y2="474.50" stroke="#3a3a3a" stroke-width="1.3"/>
<text x="979.50" y="478.85" font-size="13.8" fill="#2b2728" stroke="#2b2728" stroke-width="0.22" textLength="15.00" lengthAdjust="spacingAndGlyphs">50</text>
<line x1="967.75" y1="507.50" x2="973.75" y2="507.50" stroke="#3a3a3a" stroke-width="1.3"/>
<text x="979.50" y="512.35" font-size="13.8" fill="#2b2728" stroke="#2b2728" stroke-width="0.22" textLength="15.00" lengthAdjust="spacingAndGlyphs">50</text>
<line x1="967.75" y1="538.50" x2="973.75" y2="538.50" stroke="#3a3a3a" stroke-width="1.3"/>
<text x="979.50" y="543.35" font-size="13.8" fill="#2b2728" stroke="#2b2728" stroke-width="0.22" textLength="22.30" lengthAdjust="spacingAndGlyphs">120</text>
<line x1="967.75" y1="564.50" x2="973.75" y2="564.50" stroke="#3a3a3a" stroke-width="1.3"/>
<text x="979.50" y="569.60" font-size="13.8" fill="#2b2728" stroke="#2b2728" stroke-width="0.22" textLength="22.30" lengthAdjust="spacingAndGlyphs">120</text>
<text x="421.00" y="193.75" font-size="15.7" fill="#1a1a1a" font-weight="bold" stroke="#1a1a1a" stroke-width="0.45">g</text>
<text x="498.75" y="205.00" font-size="13.8" fill="#2b2728" stroke="#2b2728" stroke-width="0.22" textLength="175.00" lengthAdjust="spacingAndGlyphs">Serum from CR-treated mice</text>
<line x1="582.75" y1="208.00" x2="582.75" y2="253.25" stroke="#2b2728" stroke-width="1.0"/>
<path d="M580.15 250.65 L582.75 256.25 L585.35 250.65 Z" fill="#2b2728"/>
<path d="M478.25 224.25 H681.75" fill="none" stroke="#2b2728" stroke-width="1"/>
<line x1="478.75" y1="224.25" x2="478.75" y2="253.25" stroke="#2b2728" stroke-width="1.0"/>
<path d="M476.15 250.65 L478.75 256.25 L481.35 250.65 Z" fill="#2b2728"/>
<line x1="681.25" y1="224.25" x2="681.25" y2="253.25" stroke="#2b2728" stroke-width="1.0"/>
<path d="M678.65 250.65 L681.25 256.25 L683.85 250.65 Z" fill="#2b2728"/>
<g id="waterbath" stroke-linejoin="round">
<!-- back / inside -->
<path d="M456.25 282.25 H513.75 V313.5 L505.6 327 H448.5 V293.75 Z" fill="#e6f2fa"/>
<path d="M456.25 282.25 V314 H513.75 M456.25 314 L448.5 327" fill="none" stroke="#c9deea" stroke-width="0.6"/>
<path d="M448.5 306.5 H505.6 L513.75 296 V313.5 L505.6 327 H448.5 Z" fill="#d3e8f6" fill-opacity="0.8"/>
<path d="M505.6 293.75 L513.75 282.25 V313.5 L505.6 327 Z" fill="#c6e1f3" fill-opacity="0.7"/>
<!-- probe -->
<rect x="485.6" y="287" width="3" height="13.5" fill="#a7adb2"/>
<rect x="486.3" y="295" width="1.6" height="4" fill="#7e868c"/>
<rect x="491.2" y="287" width="1.8" height="12.5" fill="#8e959a"/>
<path d="M484.5 306.6 Q487 309.6 489.8 306.6" fill="none" stroke="#aab2b8" stroke-width="0.9"/>
<!-- flask -->
<path d="M468.3 296 V305.5 L462.6 315 Q461 320.8 466.5 321.2 H474 Q479.5 320.8 477.9 315 L472.6 305.5 V296 Z" fill="#f3f9fc" stroke="#a5c6d8" stroke-width="0.6"/>
<path d="M466.4 308.2 L462.6 315 Q461 320.8 466.5 321.2 H474 Q479.5 320.8 477.9 315 L474.4 308.2 Z" fill="#f6a436"/>
<path d="M463.2 317.4 Q465.5 320.8 470.2 320.9 Q475.4 320.8 477.4 317.4 Q471 319.6 463.2 317.4 Z" fill="#ea8a22"/>
<rect x="465.8" y="310.4" width="4.6" height="2.8" rx="0.6" fill="#fde9cb"/>
<rect x="466.2" y="289.4" width="8.2" height="7.8" rx="2.2" fill="#cd5a7b"/>
<rect x="466.5" y="291.8" width="7.6" height="1.3" fill="#e393aa"/>
<!-- shelf and water -->
<path d="M447.4 302.2 L455.5 296.8 H511 L503.8 302.2 Z" fill="#f4fafd" opacity="0.75"/>
<rect x="447.2" y="302" width="56.6" height="3" fill="#a6d1ec" stroke="#7aaccc" stroke-width="0.4"/>
<line x1="450" y1="307" x2="503" y2="307" stroke="#c0cad1" stroke-width="0.7"/>
<!-- outlines -->
<path d="M448.5 293.75 V327 H505.6 V293.75 M505.6 327 L513.75 313.5 V282.25" fill="none" stroke="#5f87a2" stroke-width="0.9"/>
<path d="M448.5 293.75 L456.25 282.25 H513.75 L505.6 293.75 Z" fill="none" stroke="#6d7780" stroke-width="1.2"/>
<!-- green device -->
<path d="M492 273 L495.6 262 V281 L492 287.6 Z" fill="#3e4844"/>
<path d="M478.5 273 H492 V287.6 H478.5 Z" fill="#6fbe4e"/>
<path d="M481.3 262 H495.6 L492 273 H478.5 Z" fill="#8dd16b"/>
<path d="M478.5 273 L481.3 262 H495.6 V281 L492 287.6 H478.5 Z" fill="none" stroke="#566259" stroke-width="0.7"/>
<rect x="478.5" y="286" width="13.5" height="1.8" fill="#48564d"/>
<ellipse cx="488.5" cy="267.9" rx="2.3" ry="1.9" fill="#f4f7f4" stroke="#70806f" stroke-width="0.7"/>
<rect x="487.6" y="272" width="4" height="0.9" fill="#3f4d42"/>
</g>
<g id="beaker">
<path d="M566.2 267 V319 Q566.2 327.6 576 327.6 H597 Q606.9 327.6 606.9 319 V267 Z" fill="#d4ecf5" stroke="#eef7fb" stroke-width="1.2"/>
<path d="M568.6 277 Q568.6 273 573 273 H599.5 Q604.2 273 604.2 277 V318 Q604 325 596 325.2 H577 Q569 325 568.6 318 Z" fill="#c3e4f2"/>
<ellipse cx="586.5" cy="322" rx="16.5" ry="4.6" fill="#a3d7ee"/>
<!-- bag -->
<path d="M576.3 282.3 L593.8 288.8 L588.1 313.1 L571 305.6 Z" fill="#d3e2f1" stroke="#848c96" stroke-width="0.7" stroke-linejoin="round"/>
<path d="M578 287 Q582 291 580 296 Q584 297 585 301 M588 290 Q586 295 589 298" fill="none" stroke="#b7cde6" stroke-width="0.9"/>
<rect x="582.5" y="300.6" width="13.8" height="8.8" fill="#eef6fb" opacity="0.9"/>
<ellipse cx="579" cy="308.8" rx="2.2" ry="1.2" transform="rotate(22 579 308.8)" fill="#e6eef6" stroke="#7e8791" stroke-width="0.6"/>
<ellipse cx="585.8" cy="280.4" rx="1.7" ry="2.3" fill="#e6eef6" stroke="#7e8791" stroke-width="0.6"/>
<rect x="584.6" y="282.2" width="2.6" height="4" fill="#e6eef6" stroke="#8f98a2" stroke-width="0.4"/>
<ellipse cx="589.7" cy="286.2" rx="1.3" ry="2" fill="#dde8f2" stroke="#7e8791" stroke-width="0.6"/>
<!-- graduations -->
<path d="M597.8 293 V315.2 M597.8 297.6 H603 M597.8 303.4 H603 M597.8 309 H603 M597.8 314.6 H603" fill="none" stroke="#b4d0dc" stroke-width="0.8"/>
<!-- rim -->
<path d="M561.4 266.6 Q560.6 271.2 565.8 271.8 L568.6 267 Z" fill="#a5d8ec" stroke="#eaf5fa" stroke-width="0.5"/>
<ellipse cx="585.2" cy="267.2" rx="23.8" ry="5.2" fill="#f1f9fc" stroke="#c4e2ee" stroke-width="0.5"/>
<ellipse cx="585.2" cy="266.6" rx="22.8" ry="4.3" fill="#86cbe8"/>
<ellipse cx="585.6" cy="268.3" rx="17.5" ry="2.3" fill="#48addc"/>
</g>
<g id="column">
<rect x="674.6" y="265" width="14.4" height="48.4" rx="1.2" fill="#d5ecf5" stroke="#8db6ca" stroke-width="0.8"/>
<rect x="676" y="281.25" width="11.6" height="20.2" fill="#f8c98a"/>
<path d="M675.4 301.25 H688.2 V311.6 Q688.2 313.2 686.6 313.2 H677 Q675.4 313.2 675.4 311.6 Z" fill="#9c2470"/>
<rect x="676.2" y="301.25" width="2" height="11" fill="#b04a8c"/>
<rect x="672" y="262" width="19.3" height="3.6" rx="0.8" fill="#9ed4e4" stroke="#6ba9c0" stroke-width="0.6"/>
<rect x="678.4" y="313.4" width="6.8" height="5.6" fill="#eceff2" stroke="#b3bbc1" stroke-width="0.6"/>
<rect x="676.2" y="318.7" width="11.4" height="8.8" rx="2" fill="#e9502f"/>
<rect x="676.2" y="320.4" width="11.4" height="1" fill="#f47a5c"/>
</g>
<g id="petri">
<!-- lid -->
<g transform="rotate(40 609 425.5)">
<ellipse cx="610.6" cy="427.6" rx="26" ry="14" fill="#b4deee" stroke="#b5c4cd" stroke-width="0.6"/>
<ellipse cx="609" cy="425.5" rx="26" ry="14" fill="#ffffff" stroke="#b5c4cd" stroke-width="0.6"/>
<ellipse cx="609" cy="425.5" rx="23.6" ry="11.8" fill="#cde8f2" stroke="#8fd0e8" stroke-width="0.9"/>
</g>
<!-- dish -->
<path d="M546.8 430.5 A23.5 13.5 0 0 1 593.8 430.5 V438 A23.5 13.5 0 0 1 546.8 438 Z" fill="#c3e2f0" stroke="#a9c4d2" stroke-width="0.6"/>
<ellipse cx="570.3" cy="429" rx="22.6" ry="11.4" fill="#9fd3ea"/>
<path d="M548.1 432 V438.6 A22.3 10.8 0 0 0 592.7 438.6 V432 Z" fill="#b3131c"/>
<path d="M548.1 436 A22.3 10.6 0 0 0 592.7 436" fill="none" stroke="#d98b90" stroke-width="0.7"/>
<ellipse cx="570.4" cy="432" rx="22.3" ry="10.5" fill="#e1001a" stroke="#f2a3a6" stroke-width="0.7"/>
<path d="M551.5 429 Q556 423.8 566 422.8" fill="none" stroke="#f6b4b6" stroke-width="0.9" stroke-linecap="round"/>
<path d="M560.8 443.6 V449 M562.6 444 V449.4 M586.6 440.5 V445.5" fill="none" stroke="#f4d6d8" stroke-width="0.7"/>
</g>

<text x="423.00" y="343.00" font-size="13.8" fill="#2b2728" stroke="#2b2728" stroke-width="0.22" textLength="103.25" lengthAdjust="spacingAndGlyphs">Heat-inactivation</text>
<text x="421.25" y="358.00" font-size="13.8" fill="#2b2728" stroke="#2b2728" stroke-width="0.22" textLength="106.25" lengthAdjust="spacingAndGlyphs">(56 °C for 30 min)</text>
<text x="565.00" y="351.75" font-size="13.8" fill="#2b2728" stroke="#2b2728" stroke-width="0.22" textLength="46.25" lengthAdjust="spacingAndGlyphs">Dialysis</text>
<text x="637.50" y="343.00" font-size="13.8" fill="#2b2728" stroke="#2b2728" stroke-width="0.22" textLength="91.50" lengthAdjust="spacingAndGlyphs">Pass through a</text>
<text x="636.25" y="358.00" font-size="13.8" fill="#2b2728" stroke="#2b2728" stroke-width="0.22" textLength="94.00" lengthAdjust="spacingAndGlyphs">Lipidex column</text>
<path d="M481.5 365.5 V381.25 H684.5 V365.5" fill="none" stroke="#2b2728" stroke-width="1"/>
<line x1="584.75" y1="365.50" x2="584.75" y2="404.00" stroke="#2b2728" stroke-width="1.0"/>
<path d="M582.15 401.40 L584.75 407.00 L587.35 401.40 Z" fill="#2b2728"/>
<text x="504.50" y="465.75" font-size="13.8" fill="#2b2728" stroke="#2b2728" stroke-width="0.22" textLength="162.50" lengthAdjust="spacingAndGlyphs">Incubate MEFs with serum</text>
<line x1="585.00" y1="471.25" x2="585.00" y2="492.50" stroke="#2b2728" stroke-width="1.0"/>
<path d="M582.40 489.90 L585.00 495.50 L587.60 489.90 Z" fill="#2b2728"/>
<text x="502.00" y="510.00" font-size="13.8" fill="#2b2728" stroke="#2b2728" stroke-width="0.22" textLength="167.50" lengthAdjust="spacingAndGlyphs">Determine AMPK activation</text>
</svg>
</body></html>
